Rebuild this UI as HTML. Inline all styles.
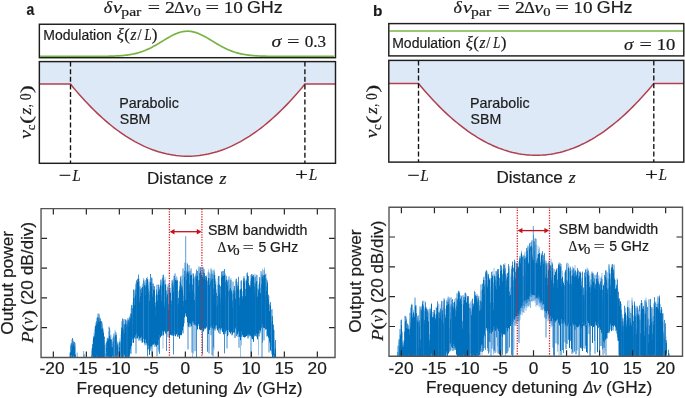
<!DOCTYPE html>
<html><head><meta charset="utf-8"><style>
html,body{margin:0;padding:0;background:#fff;overflow:hidden;}
svg{display:block;}
</style></head><body>
<svg width="685" height="398" viewBox="0 0 685 398">
<rect width="685" height="398" fill="#fff"/>
<rect x="39.35" y="24.25" width="296.15" height="33.45" fill="#fff"/>
<path d="M40.1 56.40 L41.1 56.40 L42.1 56.40 L43.1 56.40 L44.1 56.40 L45.1 56.40 L46.1 56.40 L47.1 56.40 L48.1 56.40 L49.1 56.40 L50.1 56.40 L51.1 56.40 L52.1 56.40 L53.1 56.40 L54.1 56.40 L55.1 56.40 L56.1 56.40 L57.1 56.40 L58.1 56.40 L59.1 56.40 L60.1 56.40 L61.1 56.40 L62.1 56.40 L63.1 56.40 L64.1 56.40 L65.1 56.40 L66.1 56.40 L67.1 56.40 L68.1 56.40 L69.1 56.40 L70.1 56.40 L71.1 56.40 L72.1 56.40 L73.1 56.40 L74.1 56.40 L75.1 56.40 L76.1 56.40 L77.1 56.40 L78.1 56.40 L79.1 56.40 L80.1 56.40 L81.1 56.40 L82.1 56.40 L83.1 56.40 L84.1 56.40 L85.1 56.39 L86.1 56.39 L87.1 56.39 L88.1 56.39 L89.1 56.39 L90.1 56.39 L91.1 56.39 L92.1 56.38 L93.1 56.38 L94.1 56.38 L95.1 56.37 L96.1 56.37 L97.1 56.36 L98.1 56.36 L99.1 56.35 L100.1 56.34 L101.1 56.34 L102.1 56.33 L103.1 56.32 L104.1 56.30 L105.1 56.29 L106.1 56.27 L107.1 56.26 L108.1 56.24 L109.1 56.22 L110.1 56.19 L111.1 56.16 L112.1 56.13 L113.1 56.10 L114.1 56.06 L115.1 56.02 L116.1 55.97 L117.1 55.92 L118.1 55.87 L119.1 55.80 L120.1 55.73 L121.1 55.66 L122.1 55.58 L123.1 55.49 L124.1 55.39 L125.1 55.28 L126.1 55.17 L127.1 55.04 L128.1 54.90 L129.1 54.75 L130.1 54.59 L131.1 54.42 L132.1 54.24 L133.1 54.04 L134.1 53.83 L135.1 53.60 L136.1 53.36 L137.1 53.10 L138.1 52.82 L139.1 52.53 L140.1 52.22 L141.1 51.90 L142.1 51.56 L143.1 51.19 L144.1 50.82 L145.1 50.42 L146.1 50.00 L147.1 49.57 L148.1 49.12 L149.1 48.65 L150.1 48.17 L151.1 47.67 L152.1 47.15 L153.1 46.62 L154.1 46.08 L155.1 45.52 L156.1 44.95 L157.1 44.37 L158.1 43.78 L159.1 43.18 L160.1 42.58 L161.1 41.97 L162.1 41.36 L163.1 40.75 L164.1 40.14 L165.1 39.53 L166.1 38.93 L167.1 38.34 L168.1 37.75 L169.1 37.18 L170.1 36.62 L171.1 36.08 L172.1 35.55 L173.1 35.05 L174.1 34.57 L175.1 34.12 L176.1 33.69 L177.1 33.29 L178.1 32.92 L179.1 32.58 L180.1 32.28 L181.1 32.01 L182.1 31.78 L183.1 31.59 L184.1 31.43 L185.1 31.32 L186.1 31.24 L187.1 31.20 L188.1 31.21 L189.1 31.25 L190.1 31.34 L191.1 31.46 L192.1 31.62 L193.1 31.82 L194.1 32.06 L195.1 32.34 L196.1 32.65 L197.1 32.99 L198.1 33.37 L199.1 33.77 L200.1 34.21 L201.1 34.67 L202.1 35.15 L203.1 35.66 L204.1 36.19 L205.1 36.73 L206.1 37.29 L207.1 37.87 L208.1 38.45 L209.1 39.05 L210.1 39.65 L211.1 40.26 L212.1 40.87 L213.1 41.48 L214.1 42.09 L215.1 42.70 L216.1 43.30 L217.1 43.90 L218.1 44.49 L219.1 45.06 L220.1 45.63 L221.1 46.19 L222.1 46.73 L223.1 47.26 L224.1 47.77 L225.1 48.27 L226.1 48.75 L227.1 49.21 L228.1 49.66 L229.1 50.09 L230.1 50.50 L231.1 50.89 L232.1 51.27 L233.1 51.63 L234.1 51.96 L235.1 52.29 L236.1 52.59 L237.1 52.88 L238.1 53.15 L239.1 53.41 L240.1 53.64 L241.1 53.87 L242.1 54.08 L243.1 54.28 L244.1 54.46 L245.1 54.63 L246.1 54.78 L247.1 54.93 L248.1 55.06 L249.1 55.19 L250.1 55.30 L251.1 55.41 L252.1 55.51 L253.1 55.59 L254.1 55.68 L255.1 55.75 L256.1 55.82 L257.1 55.88 L258.1 55.93 L259.1 55.98 L260.1 56.03 L261.1 56.07 L262.1 56.11 L263.1 56.14 L264.1 56.17 L265.1 56.20 L266.1 56.22 L267.1 56.24 L268.1 56.26 L269.1 56.28 L270.1 56.29 L271.1 56.31 L272.1 56.32 L273.1 56.33 L274.1 56.34 L275.1 56.35 L276.1 56.35 L277.1 56.36 L278.1 56.36 L279.1 56.37 L280.1 56.37 L281.1 56.38 L282.1 56.38 L283.1 56.38 L284.1 56.39 L285.1 56.39 L286.1 56.39 L287.1 56.39 L288.1 56.39 L289.1 56.39 L290.1 56.39 L291.1 56.40 L292.1 56.40 L293.1 56.40 L294.1 56.40 L295.1 56.40 L296.1 56.40 L297.1 56.40 L298.1 56.40 L299.1 56.40 L300.1 56.40 L301.1 56.40 L302.1 56.40 L303.1 56.40 L304.1 56.40 L305.1 56.40 L306.1 56.40 L307.1 56.40 L308.1 56.40 L309.1 56.40 L310.1 56.40 L311.1 56.40 L312.1 56.40 L313.1 56.40 L314.1 56.40 L315.1 56.40 L316.1 56.40 L317.1 56.40 L318.1 56.40 L319.1 56.40 L320.1 56.40 L321.1 56.40 L322.1 56.40 L323.1 56.40 L324.1 56.40 L325.1 56.40 L326.1 56.40 L327.1 56.40 L328.1 56.40 L329.1 56.40 L330.1 56.40 L331.1 56.40 L332.1 56.40 L333.1 56.40 L334.1 56.40" fill="none" stroke="#78b444" stroke-width="1.7"/>
<rect x="39.35" y="24.25" width="296.15" height="33.45" fill="none" stroke="#1e1e1e" stroke-width="1.45"/>
<path d="M39.35 61.60 L335.50 61.60 L335.50 84.10 L304.90 84.10 L301.97 87.66 L299.04 91.13 L296.11 94.51 L293.18 97.80 L290.25 101.00 L287.32 104.11 L284.39 107.13 L281.46 110.06 L278.53 112.89 L275.60 115.64 L272.67 118.30 L269.74 120.87 L266.81 123.35 L263.88 125.74 L260.95 128.04 L258.02 130.24 L255.09 132.36 L252.16 134.39 L249.23 136.33 L246.30 138.17 L243.37 139.93 L240.44 141.60 L237.51 143.18 L234.58 144.66 L231.65 146.06 L228.72 147.37 L225.79 148.58 L222.86 149.71 L219.93 150.75 L217.00 151.69 L214.07 152.55 L211.14 153.32 L208.21 153.99 L205.28 154.58 L202.35 155.07 L199.42 155.48 L196.49 155.79 L193.56 156.02 L190.63 156.15 L187.70 156.20 L184.77 156.15 L181.84 156.02 L178.91 155.79 L175.98 155.48 L173.05 155.07 L170.12 154.58 L167.19 153.99 L164.26 153.32 L161.33 152.55 L158.40 151.69 L155.47 150.75 L152.54 149.71 L149.61 148.58 L146.68 147.37 L143.75 146.06 L140.82 144.66 L137.89 143.18 L134.96 141.60 L132.03 139.93 L129.10 138.17 L126.17 136.33 L123.24 134.39 L120.31 132.36 L117.38 130.24 L114.45 128.04 L111.52 125.74 L108.59 123.35 L105.66 120.87 L102.73 118.30 L99.80 115.64 L96.87 112.89 L93.94 110.06 L91.01 107.13 L88.08 104.11 L85.15 101.00 L82.22 97.80 L79.29 94.51 L76.36 91.13 L73.43 87.66 L70.50 84.10 L39.35 84.10Z" fill="#dee9f7"/>
<path d="M39.35 84.10 L70.50 84.10 L73.43 87.66 L76.36 91.13 L79.29 94.51 L82.22 97.80 L85.15 101.00 L88.08 104.11 L91.01 107.13 L93.94 110.06 L96.87 112.89 L99.80 115.64 L102.73 118.30 L105.66 120.87 L108.59 123.35 L111.52 125.74 L114.45 128.04 L117.38 130.24 L120.31 132.36 L123.24 134.39 L126.17 136.33 L129.10 138.17 L132.03 139.93 L134.96 141.60 L137.89 143.18 L140.82 144.66 L143.75 146.06 L146.68 147.37 L149.61 148.58 L152.54 149.71 L155.47 150.75 L158.40 151.69 L161.33 152.55 L164.26 153.32 L167.19 153.99 L170.12 154.58 L173.05 155.07 L175.98 155.48 L178.91 155.79 L181.84 156.02 L184.77 156.15 L187.70 156.20 L190.63 156.15 L193.56 156.02 L196.49 155.79 L199.42 155.48 L202.35 155.07 L205.28 154.58 L208.21 153.99 L211.14 153.32 L214.07 152.55 L217.00 151.69 L219.93 150.75 L222.86 149.71 L225.79 148.58 L228.72 147.37 L231.65 146.06 L234.58 144.66 L237.51 143.18 L240.44 141.60 L243.37 139.93 L246.30 138.17 L249.23 136.33 L252.16 134.39 L255.09 132.36 L258.02 130.24 L260.95 128.04 L263.88 125.74 L266.81 123.35 L269.74 120.87 L272.67 118.30 L275.60 115.64 L278.53 112.89 L281.46 110.06 L284.39 107.13 L287.32 104.11 L290.25 101.00 L293.18 97.80 L296.11 94.51 L299.04 91.13 L301.97 87.66 L304.90 84.10 L335.50 84.10" fill="none" stroke="#b0404e" stroke-width="1.5" stroke-linejoin="round"/>
<line x1="70.5" y1="61.6" x2="70.5" y2="163.3" stroke="#111" stroke-width="1.35" stroke-dasharray="5 2.6"/>
<line x1="304.9" y1="61.6" x2="304.9" y2="163.3" stroke="#111" stroke-width="1.35" stroke-dasharray="5 2.6"/>
<rect x="39.35" y="61.6" width="296.15" height="101.70" fill="none" stroke="#1e1e1e" stroke-width="1.45"/>
<rect x="388.8" y="23.6" width="295.00" height="32.30" fill="#fff"/>
<line x1="389.5" y1="31" x2="683.2" y2="31" stroke="#78b444" stroke-width="1.5"/>
<rect x="388.8" y="23.6" width="295.00" height="32.30" fill="none" stroke="#1e1e1e" stroke-width="1.45"/>
<path d="M388.80 60.40 L683.80 60.40 L683.80 83.40 L653.80 83.40 L650.86 86.95 L647.92 90.41 L644.98 93.78 L642.03 97.06 L639.09 100.25 L636.15 103.35 L633.21 106.36 L630.27 109.28 L627.33 112.12 L624.39 114.86 L621.45 117.51 L618.50 120.07 L615.56 122.54 L612.62 124.92 L609.68 127.21 L606.74 129.42 L603.80 131.53 L600.86 133.55 L597.92 135.48 L594.97 137.33 L592.03 139.08 L589.09 140.74 L586.15 142.31 L583.21 143.80 L580.27 145.19 L577.33 146.49 L574.39 147.71 L571.44 148.83 L568.50 149.86 L565.56 150.81 L562.62 151.66 L559.68 152.42 L556.74 153.10 L553.80 153.68 L550.86 154.18 L547.91 154.58 L544.97 154.90 L542.03 155.12 L539.09 155.26 L536.15 155.30 L533.21 155.26 L530.27 155.12 L527.33 154.90 L524.38 154.58 L521.44 154.18 L518.50 153.68 L515.56 153.10 L512.62 152.42 L509.68 151.66 L506.74 150.81 L503.80 149.86 L500.86 148.83 L497.91 147.71 L494.97 146.49 L492.03 145.19 L489.09 143.80 L486.15 142.31 L483.21 140.74 L480.27 139.08 L477.32 137.33 L474.38 135.48 L471.44 133.55 L468.50 131.53 L465.56 129.42 L462.62 127.21 L459.68 124.92 L456.74 122.54 L453.80 120.07 L450.85 117.51 L447.91 114.86 L444.97 112.12 L442.03 109.28 L439.09 106.36 L436.15 103.35 L433.21 100.25 L430.26 97.06 L427.32 93.78 L424.38 90.41 L421.44 86.95 L418.50 83.40 L388.80 83.40Z" fill="#dee9f7"/>
<path d="M388.80 83.40 L418.50 83.40 L421.44 86.95 L424.38 90.41 L427.32 93.78 L430.26 97.06 L433.21 100.25 L436.15 103.35 L439.09 106.36 L442.03 109.28 L444.97 112.12 L447.91 114.86 L450.85 117.51 L453.80 120.07 L456.74 122.54 L459.68 124.92 L462.62 127.21 L465.56 129.42 L468.50 131.53 L471.44 133.55 L474.38 135.48 L477.32 137.33 L480.27 139.08 L483.21 140.74 L486.15 142.31 L489.09 143.80 L492.03 145.19 L494.97 146.49 L497.91 147.71 L500.86 148.83 L503.80 149.86 L506.74 150.81 L509.68 151.66 L512.62 152.42 L515.56 153.10 L518.50 153.68 L521.44 154.18 L524.38 154.58 L527.33 154.90 L530.27 155.12 L533.21 155.26 L536.15 155.30 L539.09 155.26 L542.03 155.12 L544.97 154.90 L547.91 154.58 L550.86 154.18 L553.80 153.68 L556.74 153.10 L559.68 152.42 L562.62 151.66 L565.56 150.81 L568.50 149.86 L571.44 148.83 L574.39 147.71 L577.33 146.49 L580.27 145.19 L583.21 143.80 L586.15 142.31 L589.09 140.74 L592.03 139.08 L594.97 137.33 L597.92 135.48 L600.86 133.55 L603.80 131.53 L606.74 129.42 L609.68 127.21 L612.62 124.92 L615.56 122.54 L618.50 120.07 L621.45 117.51 L624.39 114.86 L627.33 112.12 L630.27 109.28 L633.21 106.36 L636.15 103.35 L639.09 100.25 L642.03 97.06 L644.98 93.78 L647.92 90.41 L650.86 86.95 L653.80 83.40 L683.80 83.40" fill="none" stroke="#b0404e" stroke-width="1.5" stroke-linejoin="round"/>
<line x1="418.5" y1="60.4" x2="418.5" y2="162.1" stroke="#111" stroke-width="1.35" stroke-dasharray="5 2.6"/>
<line x1="653.8" y1="60.4" x2="653.8" y2="162.1" stroke="#111" stroke-width="1.35" stroke-dasharray="5 2.6"/>
<rect x="388.8" y="60.4" width="295.00" height="101.70" fill="none" stroke="#1e1e1e" stroke-width="1.45"/>
<path d="M69.00 357.0V357.5M70.50 346.0V352.2M71.00 343.3V344.6M73.00 339.2V344.5M75.50 353.9V355.0M76.50 357.0V357.5M77.50 357.0V357.5M78.50 357.0V357.5M79.50 357.0V357.5M82.00 357.0V357.5M83.00 357.0V357.5M84.50 357.0V357.5M86.00 357.0V357.5M87.50 357.0V357.5M89.50 357.0V357.5M90.00 357.0V357.5M91.50 354.8V356.3M93.00 339.9V345.9M94.00 332.5V338.2M94.50 329.1V336.5M95.00 326.0V333.7M99.50 315.9V321.7M100.50 318.4V320.7M101.00 326.9V356.9M102.50 324.7V328.3M103.00 327.6V331.0M103.50 329.3V332.8M104.00 336.5V345.1M105.00 342.8V344.1M106.00 345.4V353.3M107.00 338.2V340.9M108.50 330.9V338.8M109.00 329.3V357.5M110.00 329.9V336.3M110.50 335.1V338.8M111.00 334.8V339.6M112.50 341.4V347.2M113.50 335.4V341.2M115.00 329.9V337.8M115.50 331.5V335.3M117.00 341.1V346.6M117.50 341.7V344.9M118.00 342.3V343.4M118.50 357.0V357.5M119.00 349.0V356.0M120.00 337.8V340.8M121.00 334.3V343.1M123.50 320.4V328.7M126.00 321.3V324.5M126.50 320.9V327.1M127.50 320.8V324.3M130.50 313.3V318.3M131.00 308.3V313.3M132.00 315.7V324.6M133.00 301.9V305.3M134.00 289.8V298.0M134.50 296.9V304.7M135.50 288.7V295.4M136.00 282.6V284.1M139.00 278.1V281.2M139.50 298.0V302.2M142.00 285.4V290.9M142.50 283.6V286.8M143.50 278.0V280.3M144.00 279.2V282.7M144.50 281.1V285.1M145.00 280.7V286.4M147.50 276.8V279.1M148.00 283.6V292.5M148.50 285.4V288.6M149.00 279.2V281.3M149.50 294.7V301.0M150.00 282.7V291.1M152.50 293.5V296.5M153.50 283.5V289.5M155.00 296.1V302.5M156.00 294.5V302.4M157.50 295.1V300.5M160.00 284.6V288.8M160.50 279.9V284.9M161.50 295.2V301.0M162.00 281.0V286.1M164.50 302.9V307.1M165.00 277.2V284.1M165.50 279.7V284.7M166.00 284.4V290.6M166.50 290.5V296.6M167.00 293.3V300.6M167.50 286.6V294.2M168.00 284.2V287.3M169.50 284.9V290.0M170.00 288.5V292.3M170.50 287.7V292.8M171.00 299.7V304.0M173.50 284.9V291.7M174.50 273.6V275.9M175.50 273.3V279.9M176.00 279.6V287.8M176.50 276.2V280.7M177.00 277.2V279.7M178.00 297.5V304.4M179.50 286.8V289.7M182.00 279.6V287.1M182.50 286.3V290.0M184.00 293.1V295.9M186.50 274.0V279.7M187.00 262.8V270.8M190.50 269.5V275.6M191.00 267.9V275.7M191.50 268.8V274.8M194.50 293.3V300.1M195.00 285.4V322.9M195.50 273.3V275.5M198.00 284.8V291.5M200.00 278.2V285.6M201.50 267.1V274.4M202.00 282.6V284.4M202.50 267.8V276.7M205.00 281.8V289.4M206.50 275.1V277.3M207.00 285.4V328.4M207.50 280.2V285.0M208.00 272.1V280.9M208.50 269.4V277.8M209.00 277.6V328.5M209.50 277.5V284.8M210.00 274.3V278.2M210.50 286.0V326.0M214.00 268.9V270.5M214.50 272.8V275.2M215.00 274.8V278.7M215.50 280.9V284.2M216.00 281.5V289.4M217.00 299.8V307.2M218.00 277.7V284.7M220.00 295.0V298.4M221.00 296.2V303.2M222.00 274.3V279.7M222.50 271.1V275.4M223.50 270.6V276.0M224.00 271.2V277.3M225.00 287.2V295.7M225.50 273.6V281.8M226.50 275.8V279.8M228.50 297.1V335.0M230.00 284.2V289.0M230.50 279.1V287.9M231.00 278.0V280.1M233.50 290.5V294.2M235.50 290.8V298.6M237.00 284.1V286.0M237.50 284.5V288.6M240.00 289.2V290.2M240.50 280.8V289.2M246.00 299.8V303.4M246.50 273.1V280.5M248.00 284.5V289.9M249.00 284.7V290.3M250.50 280.7V287.1M252.00 274.2V281.3M252.50 274.2V275.8M254.00 274.3V282.7M255.00 273.7V277.2M255.50 276.0V283.4M256.00 282.7V288.6M256.50 274.7V281.2M257.50 288.4V296.5M260.00 290.7V294.7M260.50 287.8V293.2M262.00 272.3V274.4M262.50 268.7V276.5M264.50 267.6V275.0M265.00 287.7V296.3M266.00 273.3V278.0M266.50 286.6V291.0M267.50 281.4V282.7M269.00 295.8V304.6M269.50 303.7V311.1M271.50 309.9V313.6M271.50 313.6V351.5M273.00 324.3V328.8M275.00 342.5V349.2M276.00 357.0V357.5M277.00 357.0V357.5M71.50 355.1V356.3M72.00 357.4V357.5M77.00 357.3V357.5M83.50 356.6V357.3M97.50 357.0V357.5M99.00 354.7V357.5M101.00 356.9V357.3M103.00 354.7V355.6M104.50 357.3V357.5M107.50 356.2V357.4M108.00 356.8V357.2M111.50 357.3V357.5M112.00 355.8V356.8M112.50 355.8V356.8M116.00 355.5V356.9M117.50 354.9V356.0M119.00 356.0V356.8M123.00 356.6V357.2M123.50 353.5V356.5M124.00 357.4V357.5M124.50 354.8V356.0M128.50 357.2V357.4M158.50 339.9V350.0M163.00 333.2V348.6M192.50 321.4V357.1M193.50 321.0V353.5M214.00 329.0V350.2M240.50 340.3V357.5M241.50 331.4V345.6M258.50 333.8V355.5" stroke="#80b6e3" stroke-width="0.8" fill="none"/><path d="M69.50 357.0V357.5M70.00 352.6V357.5M71.50 343.1V350.2M72.00 339.5V346.3M72.00 346.3V357.4M72.50 338.0V346.2M73.50 341.4V344.2M74.00 357.0V357.5M74.50 341.9V346.8M75.00 343.1V345.8M76.00 357.0V357.5M77.00 356.8V357.3M78.00 357.0V357.5M79.00 357.0V357.5M80.00 357.0V357.5M80.50 357.0V357.5M81.00 357.0V357.5M81.50 357.0V357.5M82.50 357.0V357.5M83.50 355.5V356.6M84.00 357.0V357.5M85.00 357.0V357.5M85.50 357.0V357.5M86.50 357.0V357.5M87.00 357.0V357.5M88.00 357.0V357.5M88.50 357.0V357.5M89.00 357.0V357.5M90.50 357.0V357.5M91.00 357.0V357.5M92.00 348.4V351.0M92.50 344.1V347.9M93.50 336.4V337.7M95.50 325.6V326.7M96.00 322.5V325.5M96.50 321.1V324.8M97.00 317.8V323.0M97.50 317.1V323.8M98.00 313.6V318.3M98.50 317.6V322.0M99.00 313.7V321.9M100.00 317.9V319.0M101.00 321.5V326.9M101.50 321.2V328.5M102.00 322.3V328.5M103.00 331.0V354.7M104.50 336.6V339.6M104.50 339.6V357.3M105.00 344.1V353.7M105.50 357.0V357.5M106.50 342.5V347.6M107.50 338.5V341.1M108.00 337.5V340.9M109.00 326.7V329.3M109.50 328.1V335.4M110.00 336.3V357.5M111.50 339.6V346.4M112.00 343.9V352.1M113.00 337.7V341.4M113.00 341.4V357.5M113.50 341.2V357.5M114.00 333.5V335.6M114.50 357.0V357.5M116.00 332.4V336.4M116.50 334.7V336.3M116.50 336.3V357.5M119.00 347.7V349.0M119.50 342.3V346.6M120.50 357.0V357.5M121.50 327.5V330.5M122.00 321.1V327.3M122.50 318.6V327.4M123.00 318.9V323.5M123.50 328.7V353.5M124.00 331.7V333.6M124.50 324.3V333.1M125.00 319.0V325.3M125.50 319.8V323.2M126.50 327.1V357.2M127.00 319.8V323.9M127.50 324.3V357.5M128.00 317.9V321.3M128.50 319.9V325.5M129.00 319.6V320.8M129.50 317.6V323.0M130.00 315.8V321.9M131.50 304.9V313.5M132.50 308.4V310.3M132.50 310.3V338.5M133.50 289.4V297.7M134.00 298.0V337.6M135.00 290.1V292.6M136.50 280.3V285.7M136.50 285.7V333.5M137.00 296.4V301.0M137.50 278.8V281.9M138.00 285.1V289.5M138.50 274.6V278.4M140.00 286.1V287.1M140.50 289.4V295.6M141.00 311.1V317.9M141.50 288.1V292.9M142.00 290.9V342.7M143.00 290.0V291.5M143.00 291.5V338.2M143.50 280.3V338.9M144.00 282.7V342.0M145.00 286.4V345.4M145.50 286.5V295.1M146.00 280.0V283.0M146.50 277.9V284.9M147.00 283.8V290.6M148.50 288.6V345.6M149.00 281.3V348.6M150.50 274.0V281.4M151.00 285.7V289.3M151.00 289.3V348.7M151.50 277.6V286.3M152.00 278.1V282.3M153.00 283.7V286.2M154.00 294.5V297.1M154.50 286.1V289.3M155.50 306.6V315.4M156.50 289.3V293.4M157.00 284.5V292.0M158.00 294.6V303.4M158.50 284.7V290.3M159.00 287.1V291.0M159.50 289.6V294.1M161.00 279.5V282.2M162.50 277.8V285.4M163.00 275.2V284.1M163.50 274.7V280.6M164.00 279.8V280.8M166.50 296.6V334.2M168.00 287.3V337.0M168.50 304.1V309.4M169.00 284.0V288.9M171.50 300.9V303.5M171.50 303.5V335.3M172.00 280.3V283.5M172.50 282.1V287.3M173.00 279.6V286.5M174.00 275.8V281.7M174.50 275.9V334.5M175.00 278.1V281.7M175.00 281.7V336.0M177.50 280.4V289.1M177.50 289.1V336.0M178.50 298.0V303.2M179.00 291.2V297.9M180.00 281.2V284.7M180.50 277.3V282.2M181.00 275.8V277.2M181.00 277.2V334.5M181.50 285.0V287.8M183.00 268.4V275.0M183.50 301.1V306.0M184.50 270.8V276.4M185.00 262.5V266.2M185.00 266.2V307.6M185.50 266.1V275.1M186.00 272.7V280.6M187.50 263.7V272.0M188.00 282.8V289.2M188.50 271.5V273.5M189.00 265.1V273.3M189.50 283.9V291.6M190.00 270.9V272.8M192.00 288.5V291.5M192.00 291.5V324.0M192.50 284.6V290.3M193.00 273.3V278.7M193.50 273.8V277.7M194.00 276.3V284.3M195.00 278.4V285.4M195.50 275.5V325.5M196.00 289.0V296.8M196.50 269.6V277.1M197.00 274.7V283.6M197.50 271.0V275.5M198.50 280.2V285.4M199.00 266.5V268.2M199.50 273.0V279.9M200.00 285.6V325.7M200.50 267.2V270.7M201.00 278.0V283.5M203.00 267.0V273.6M203.00 273.6V327.4M203.50 271.3V279.0M204.00 268.9V272.9M204.50 273.2V277.0M205.50 275.9V279.3M206.00 276.0V282.9M207.00 281.7V285.4M207.50 285.0V328.4M208.00 280.9V330.1M209.00 272.4V277.6M210.50 281.7V286.0M211.00 268.5V273.7M211.50 279.6V286.1M211.50 286.1V326.9M212.00 270.4V272.9M212.50 279.0V280.4M213.00 274.4V277.5M213.50 288.6V294.7M216.50 292.9V299.3M216.50 299.3V325.1M217.50 296.0V305.0M218.50 276.0V280.9M218.50 280.9V332.6M219.00 276.0V283.4M219.50 284.8V292.6M220.50 286.1V288.0M220.50 288.0V329.0M221.50 271.5V277.1M222.00 279.7V328.5M223.00 271.1V274.5M224.50 269.0V274.5M225.50 281.8V332.1M226.00 275.9V280.0M227.00 280.8V284.5M227.50 281.6V285.5M228.00 279.6V282.0M228.00 282.0V330.3M228.50 291.3V297.1M229.00 276.4V279.5M229.50 290.4V296.9M231.50 290.2V291.4M232.00 293.6V302.3M232.50 300.2V307.9M233.00 281.5V290.5M233.50 294.2V332.7M234.00 288.7V290.5M234.50 285.9V292.3M235.00 300.4V303.6M236.00 279.3V281.0M236.50 278.6V281.9M236.50 281.9V336.2M238.00 281.8V286.9M238.00 286.9V336.9M238.50 276.8V285.7M239.00 300.4V308.5M239.50 297.5V304.6M241.00 291.0V296.3M241.50 280.3V288.1M242.00 291.0V297.7M242.50 296.0V298.6M243.00 298.2V306.8M243.50 278.4V280.6M244.00 276.1V282.6M244.50 278.5V282.4M245.00 280.5V286.4M245.00 286.4V334.1M245.50 288.9V295.5M247.00 278.8V283.8M247.50 272.5V274.6M248.50 276.1V282.6M249.50 285.3V286.3M250.00 284.8V290.8M251.00 275.1V280.9M251.50 274.2V277.8M253.00 291.6V295.1M253.50 275.0V276.3M254.50 286.2V292.6M255.50 283.4V335.3M257.00 275.1V280.6M258.00 298.9V300.3M258.50 289.4V292.1M259.00 284.4V287.4M259.50 277.1V281.9M261.00 271.1V277.5M261.50 284.3V290.8M261.50 290.8V328.4M263.00 285.1V293.2M263.00 293.2V324.1M263.50 275.1V279.1M264.00 270.2V276.0M265.50 274.3V278.3M265.50 278.3V329.8M267.00 279.7V285.5M268.00 296.4V297.7M268.50 294.7V299.8M270.00 318.2V325.7M270.50 302.1V306.0M271.00 322.6V330.9M271.00 330.9V346.2M272.00 309.1V316.3M272.50 316.2V320.2M273.50 324.7V329.9M274.00 329.9V338.1M274.50 353.5V357.5M275.50 340.0V348.2M276.50 357.0V357.5M277.50 357.0V357.5M278.00 357.0V357.5M73.50 355.8V356.7M74.50 356.9V357.4M75.00 356.8V357.0M75.50 356.3V357.4M92.00 356.1V357.3M92.50 355.7V356.4M94.00 357.1V357.3M94.50 357.0V357.3M96.00 355.7V357.2M96.50 355.4V357.2M98.00 357.3V357.4M99.50 357.1V357.3M100.00 356.0V356.3M105.00 353.7V356.2M106.50 352.3V355.8M107.00 357.3V357.5M108.50 356.3V356.9M110.50 357.3V357.5M111.00 351.8V353.9M114.00 357.3V357.4M115.00 356.3V357.5M115.50 355.6V357.2M119.50 357.2V357.4M121.00 355.9V356.6M121.50 354.8V357.2M122.50 357.2V357.4M125.00 351.9V355.3M125.50 357.3V357.4M126.50 357.2V357.4M128.00 354.1V357.0M129.50 355.3V356.4M131.00 344.5V354.1M136.00 338.0V353.6M147.50 344.6V356.3M152.00 347.0V355.6M157.00 344.5V356.3M159.00 338.3V352.3M159.50 335.7V353.9M166.50 334.2V351.0M173.50 336.4V354.5M188.00 326.0V349.4M192.00 324.0V352.5M195.00 322.9V351.2M196.50 326.0V357.4M202.50 328.0V354.3M207.50 328.4V351.8M209.00 328.5V353.5M211.00 328.7V335.2M212.00 325.2V355.0M213.00 329.6V356.3M213.50 325.3V347.4M224.50 329.4V353.4M227.00 328.7V348.5M239.00 333.6V347.8M251.00 335.8V356.9M262.00 326.2V357.0M262.50 324.2V342.8M264.00 324.9V340.4M269.00 338.2V352.5" stroke="#2a82c9" stroke-width="0.9" fill="none"/><path d="M70.50 352.2V357.5M71.00 344.6V357.5M71.50 350.2V355.1M72.50 346.2V357.5M73.00 344.5V357.5M73.50 344.2V355.8M74.50 346.8V356.9M75.00 345.8V356.8M75.50 355.0V356.3M91.50 356.3V357.5M92.00 351.0V356.1M92.50 347.9V355.7M93.00 345.9V357.5M93.50 337.7V357.5M94.00 338.2V357.1M94.50 336.5V357.0M95.00 333.7V357.5M95.50 326.7V357.5M96.00 325.5V355.7M96.50 324.8V355.4M97.00 323.0V357.5M97.50 323.8V357.0M98.00 318.3V357.3M98.50 322.0V357.5M99.00 321.9V354.7M99.50 321.7V357.1M100.00 319.0V356.0M100.50 320.7V357.5M101.50 328.5V357.5M102.00 328.5V357.5M102.50 328.3V357.5M103.50 332.8V357.5M104.00 345.1V357.5M106.00 353.3V357.5M106.50 347.6V352.3M107.00 340.9V357.3M107.50 341.1V356.2M108.00 340.9V356.8M108.50 338.8V356.3M109.50 335.4V357.5M110.50 338.8V357.3M111.00 339.6V351.8M111.50 346.4V357.3M112.00 352.1V355.8M112.50 347.2V355.8M114.00 335.6V357.3M115.00 337.8V356.3M115.50 335.3V355.6M116.00 336.4V355.5M117.00 346.6V357.5M117.50 344.9V354.9M118.00 343.4V357.5M119.50 346.6V357.2M120.00 340.8V357.5M121.00 343.1V355.9M121.50 330.5V354.8M122.00 327.3V357.5M122.50 327.4V357.2M123.00 323.5V356.6M124.00 333.6V357.4M124.50 333.1V354.8M125.00 325.3V351.9M125.50 323.2V357.3M126.00 324.5V357.5M127.00 323.9V357.5M128.00 321.3V354.1M128.50 325.5V357.2M129.00 320.8V357.5M129.50 323.0V355.3M130.00 321.9V353.0M130.50 318.3V349.2M131.00 313.3V344.5M131.50 313.5V345.9M132.00 324.6V342.8M133.00 305.3V339.7M133.50 297.7V342.9M134.50 304.7V337.3M135.00 292.6V338.8M135.50 295.4V335.2M136.00 284.1V338.0M137.00 301.0V338.3M137.50 281.9V338.4M138.00 289.5V331.7M138.50 278.4V336.4M139.00 281.2V340.7M139.50 302.2V338.7M140.00 287.1V336.4M140.50 295.6V337.8M141.00 317.9V340.6M141.50 292.9V336.8M142.50 286.8V342.5M144.50 285.1V343.3M145.50 295.1V339.4M146.00 283.0V343.5M146.50 284.9V342.8M147.00 290.6V345.4M147.50 279.1V344.6M148.00 292.5V349.7M149.50 301.0V354.8M150.00 291.1V351.0M150.50 281.4V346.4M151.50 286.3V346.2M152.00 282.3V347.0M152.50 296.5V344.8M153.00 286.2V341.3M153.50 289.5V344.7M154.00 297.1V342.4M154.50 289.3V343.6M155.00 302.5V346.7M155.50 315.4V344.9M156.00 302.4V344.0M156.50 293.4V346.6M157.00 292.0V344.5M157.50 300.5V344.9M158.00 303.4V344.6M158.50 290.3V339.9M159.00 291.0V338.3M159.50 294.1V335.7M160.00 288.8V332.5M160.50 284.9V337.5M161.00 282.2V334.4M161.50 301.0V335.8M162.00 286.1V335.4M162.50 285.4V331.0M163.00 284.1V333.2M163.50 280.6V335.4M164.00 280.8V332.1M164.50 307.1V330.8M165.00 284.1V329.6M165.50 284.7V332.8M166.00 290.6V334.3M167.00 300.6V329.8M167.50 294.2V331.6M168.50 309.4V330.9M169.00 288.9V330.6M169.50 290.0V338.4M170.00 292.3V334.9M170.50 292.8V334.3M171.00 304.0V335.2M172.00 283.5V335.2M172.50 287.3V334.3M173.00 286.5V335.9M173.50 291.7V336.4M174.00 281.7V331.1M175.50 279.9V336.3M176.00 287.8V334.8M176.50 280.7V334.0M177.00 279.7V331.8M178.00 304.4V337.0M178.50 303.2V335.1M179.00 297.9V331.6M179.50 289.7V338.7M180.00 284.7V334.3M180.50 282.2V335.2M181.50 287.8V335.2M182.00 287.1V331.2M182.50 290.0V330.0M183.00 275.0V333.4M183.50 306.0V326.5M184.00 295.9V323.4M184.50 276.4V317.5M185.50 275.1V313.4M186.00 280.6V315.9M186.50 279.7V316.7M187.00 270.8V316.7M187.50 272.0V322.4M188.00 289.2V326.0M188.50 273.5V326.8M189.00 273.3V324.8M189.50 291.6V323.2M190.00 272.8V327.3M190.50 275.6V323.1M191.00 275.7V324.3M191.50 274.8V326.1M192.50 290.3V321.4M193.00 278.7V322.8M193.50 277.7V321.0M194.00 284.3V324.9M194.50 300.1V324.4M196.00 296.8V324.2M196.50 277.1V326.0M197.00 283.6V325.9M197.50 275.5V329.5M198.00 291.5V324.0M198.50 285.4V324.1M199.00 268.2V326.0M199.50 279.9V329.3M200.50 270.7V329.9M201.00 283.5V330.4M201.50 274.4V329.1M202.00 284.4V328.7M202.50 276.7V328.0M203.50 279.0V331.4M204.00 272.9V329.7M204.50 277.0V328.0M205.00 289.4V328.7M205.50 279.3V328.6M206.00 282.9V327.7M206.50 277.3V326.7M208.50 277.8V334.0M209.50 284.8V329.9M210.00 278.2V327.9M211.00 273.7V328.7M212.00 272.9V325.2M212.50 280.4V328.2M213.00 277.5V329.6M213.50 294.7V325.3M214.00 270.5V329.0M214.50 275.2V328.4M215.00 278.7V330.5M215.50 284.2V325.9M216.00 289.4V328.6M217.00 307.2V325.8M217.50 305.0V330.4M218.00 284.7V329.0M219.00 283.4V327.8M219.50 292.6V328.4M220.00 298.4V333.9M221.00 303.2V330.4M221.50 277.1V327.9M222.50 275.4V331.9M223.00 274.5V331.6M223.50 276.0V334.3M224.00 277.3V331.5M224.50 274.5V329.4M225.00 295.7V333.9M226.00 280.0V330.8M226.50 279.8V330.2M227.00 284.5V328.7M227.50 285.5V336.2M229.00 279.5V330.1M229.50 296.9V332.2M230.00 289.0V330.4M230.50 287.9V333.7M231.00 280.1V331.3M231.50 291.4V331.8M232.00 302.3V335.4M232.50 307.9V334.3M233.00 290.5V328.6M234.00 290.5V332.3M234.50 292.3V332.4M235.00 303.6V337.9M235.50 298.6V327.5M236.00 281.0V329.1M237.00 286.0V333.5M237.50 288.6V334.3M238.50 285.7V331.7M239.00 308.5V333.6M239.50 304.6V336.8M240.00 290.2V336.5M240.50 289.2V340.3M241.00 296.3V336.5M241.50 288.1V331.4M242.00 297.7V336.7M242.50 298.6V335.0M243.00 306.8V332.9M243.50 280.6V337.1M244.00 282.6V335.3M244.50 282.4V337.5M245.50 295.5V336.9M246.00 303.4V335.9M246.50 280.5V336.2M247.00 283.8V335.9M247.50 274.6V334.7M248.00 289.9V338.5M248.50 282.6V334.2M249.00 290.3V336.5M249.50 286.3V334.7M250.00 290.8V335.8M250.50 287.1V335.4M251.00 280.9V335.8M251.50 277.8V336.7M252.00 281.3V338.6M252.50 275.8V339.2M253.00 295.1V336.4M253.50 276.3V341.8M254.00 282.7V336.7M254.50 292.6V334.6M255.00 277.2V336.0M256.00 288.6V336.0M256.50 281.2V333.5M257.00 280.6V337.2M257.50 296.5V339.3M258.00 300.3V330.4M258.50 292.1V333.8M259.00 287.4V336.4M259.50 281.9V329.9M260.00 294.7V333.2M260.50 293.2V330.9M261.00 277.5V327.1M262.00 274.4V326.2M262.50 276.5V324.2M263.50 279.1V327.8M264.00 276.0V324.9M264.50 275.0V328.1M265.00 296.3V327.0M266.00 278.0V329.2M266.50 291.0V329.0M267.00 285.5V336.5M267.50 282.7V335.3M268.00 297.7V336.1M268.50 299.8V337.8M269.00 304.6V338.2M269.50 311.1V341.4M270.00 325.7V343.1M270.50 306.0V350.6M272.00 316.3V354.2M272.50 320.2V357.2M273.00 328.8V357.5M273.50 329.9V355.0M274.00 338.1V357.5M275.00 349.2V357.1M275.50 348.2V357.5" stroke="#0070bd" stroke-width="1.0" fill="none"/><path d="M185.7 236.2V300" stroke="#4a94d2" stroke-width="0.9"/><path d="M77.2 352.5V357.5M83.6 351V357.5M84.4 354V357.5" stroke="#5a9fd6" stroke-width="0.8"/>
<line x1="169.4" y1="208.6" x2="169.4" y2="357.5" stroke="#d81e24" stroke-width="1.25" stroke-dasharray="1.3 1.26"/>
<line x1="201.9" y1="208.6" x2="201.9" y2="357.5" stroke="#d81e24" stroke-width="1.25" stroke-dasharray="1.3 1.26"/>
<line x1="172.4" y1="231.7" x2="198.9" y2="231.7" stroke="#c4121a" stroke-width="1.3"/>
<path d="M169.70000000000002 231.7 l4.8 -2.7 v5.4z M201.6 231.7 l-4.8 -2.7 v5.4z" fill="#c4121a"/>
<path d="M53.35 357.5v-6 M53.35 208.6v6 M86.35 357.5v-6 M86.35 208.6v6 M119.35 357.5v-6 M119.35 208.6v6 M152.35 357.5v-6 M152.35 208.6v6 M185.35 357.5v-6 M185.35 208.6v6 M218.35 357.5v-6 M218.35 208.6v6 M251.35 357.5v-6 M251.35 208.6v6 M284.35 357.5v-6 M284.35 208.6v6 M317.35 357.5v-6 M317.35 208.6v6 M41.05 238.38h6 M335.05 238.38h-6 M41.05 268.16h6 M335.05 268.16h-6 M41.05 297.94h6 M335.05 297.94h-6 M41.05 327.72h6 M335.05 327.72h-6" stroke="#262626" stroke-width="1.2" fill="none"/>
<path d="M41.05 208.6H335.05V357.5H41.05Z" fill="none" stroke="#555" stroke-width="1.4"/>
<path d="M512.50 318.2V324.7M513.00 321.9V328.3M513.50 323.3V331.7M514.00 319.4V323.8M514.50 319.5V325.6M515.00 319.8V325.8M515.50 316.4V323.5M516.00 317.6V325.8M516.50 316.0V323.8M517.00 314.9V321.7M517.50 312.2V320.4M518.00 316.0V322.1M518.50 314.1V320.9M519.00 314.9V321.3M519.50 310.6V316.2M520.00 313.6V319.7M520.50 308.0V314.9M521.00 304.8V309.1M521.50 306.3V311.4M522.00 308.1V315.1M522.50 305.5V312.2M523.00 302.2V309.2M523.50 306.7V312.2M524.00 306.4V313.0M524.50 301.0V308.9M525.00 299.7V307.5M525.50 300.3V306.0M526.00 303.6V310.9M526.50 300.5V306.3M527.00 302.7V307.9M527.50 299.2V305.9M528.00 298.8V305.1M528.50 298.9V306.5M529.00 301.3V306.5M529.50 296.3V304.7M530.00 293.8V301.3M530.50 299.9V307.9M531.00 297.1V301.9M531.50 293.5V301.3M532.00 295.2V301.2M532.50 295.2V301.4M533.00 293.2V297.7M533.50 295.1V301.0M534.00 295.1V300.4M534.50 295.3V299.8M535.00 295.5V302.5M535.50 292.2V300.4M536.00 298.5V306.6M536.50 297.9V305.0M537.00 295.1V302.5M537.50 297.5V305.3M538.00 298.5V304.3M538.50 295.3V301.5M539.00 299.1V306.5M539.50 297.2V303.4M540.00 302.4V307.3M540.50 300.4V305.3M541.00 303.4V310.0M541.50 301.5V309.5M542.00 300.5V306.9M542.50 305.0V310.5M543.00 301.1V309.0M543.50 304.2V308.5M544.00 304.0V310.4M544.50 310.0V317.7M545.00 311.4V316.9M545.50 311.0V319.2M546.00 309.7V316.5M546.50 313.1V318.8M547.00 310.5V317.5M547.50 311.1V315.7M548.00 314.1V321.4M548.50 314.4V319.7M549.00 310.9V317.5M549.50 318.3V323.4M550.00 314.5V320.2M550.50 315.9V323.0M551.00 321.3V327.4M551.50 321.0V325.5M552.00 316.3V322.6M552.50 318.4V325.9M553.00 318.4V323.3M553.50 321.0V329.1M554.00 321.7V326.7M554.50 320.2V327.3" stroke="#6aa9de" stroke-width="0.8" fill="none"/><path d="M396.50 355.8V356.3M397.50 352.1V356.3M399.50 339.5V346.3M402.50 341.4V346.5M403.00 342.2V344.7M403.50 340.0V346.9M404.00 350.1V356.2M405.50 316.0V321.0M407.00 348.5V356.3M408.50 325.5V328.6M409.00 352.6V356.3M410.50 322.1V327.2M411.00 306.3V307.9M412.00 303.6V305.1M412.50 314.7V317.5M413.00 314.8V320.0M413.50 309.7V312.3M414.50 314.3V316.7M416.50 317.2V356.3M417.50 315.6V321.6M418.50 314.9V322.0M419.00 340.7V347.8M423.50 300.6V305.7M425.00 300.9V308.3M428.50 312.6V321.3M430.00 307.3V309.1M430.50 309.2V314.4M431.00 308.0V311.3M431.50 303.0V304.1M432.00 325.4V328.9M435.00 314.3V319.0M436.00 307.2V315.0M437.00 312.7V320.0M438.50 303.5V312.1M440.00 304.4V310.8M442.00 310.4V319.4M445.00 310.3V314.9M445.50 308.6V317.6M446.50 299.7V305.5M447.50 298.2V304.8M448.00 296.6V301.4M448.50 296.8V303.8M449.50 328.4V332.6M449.50 332.6V344.2M450.50 312.4V319.1M451.50 297.3V304.2M453.50 307.0V309.1M454.50 299.2V301.8M455.50 310.2V316.4M458.00 291.9V299.2M460.50 295.2V298.6M461.00 295.3V300.6M462.00 320.2V327.6M463.50 297.0V304.3M464.50 296.6V299.9M466.50 294.2V302.4M467.00 305.6V311.7M469.50 303.7V307.5M470.00 303.1V308.1M470.50 301.7V308.6M471.00 310.6V319.1M471.00 319.1V355.4M471.50 311.8V315.1M474.00 303.2V307.1M475.00 292.6V295.5M475.50 292.1V295.3M476.00 299.0V302.5M479.00 295.8V300.3M479.50 305.5V310.7M480.00 308.3V315.5M482.00 290.4V299.3M483.00 298.1V341.8M483.50 278.0V280.0M485.50 278.6V333.7M487.50 284.6V287.2M488.00 274.9V280.1M490.00 286.7V292.6M492.50 271.3V275.5M493.50 302.4V309.5M494.00 267.9V274.5M495.50 279.7V285.7M496.50 281.5V289.1M498.00 300.6V309.2M499.00 284.9V292.5M500.00 280.9V285.3M501.00 280.4V283.6M502.00 268.2V273.4M502.50 274.2V281.4M505.00 263.0V268.8M505.50 267.4V273.4M510.00 296.5V304.8M510.50 287.3V294.7M511.00 273.3V276.7M511.50 265.9V268.6M512.00 270.4V276.1M513.50 271.8V323.3M517.00 272.9V278.6M518.50 261.8V267.1M519.50 257.9V259.6M520.50 258.5V263.3M521.00 254.1V257.8M521.50 250.7V252.6M522.00 267.7V276.3M523.50 255.7V256.7M523.50 256.7V306.7M524.00 269.7V276.4M524.50 253.6V259.0M525.00 251.7V256.1M526.00 265.0V272.6M527.00 247.7V255.0M529.00 264.1V267.3M530.50 250.8V299.9M531.50 241.8V246.3M533.00 247.8V254.5M534.50 238.4V241.2M535.00 255.6V263.1M535.50 237.9V241.4M535.50 241.4V292.2M536.50 259.7V262.6M538.00 245.6V254.2M538.50 249.2V254.2M539.00 250.3V256.5M539.50 247.3V253.0M540.00 253.3V262.0M540.50 259.4V265.3M541.00 263.4V267.3M541.50 253.0V255.2M542.00 259.0V300.5M543.50 256.6V263.9M545.00 259.7V263.6M545.50 275.5V277.9M548.00 270.7V275.5M548.00 275.5V314.1M548.50 261.6V269.6M549.00 260.0V262.8M549.50 261.3V264.7M551.00 258.9V266.7M551.50 277.3V280.2M554.00 278.2V284.8M554.50 269.0V274.9M555.00 274.4V277.1M555.50 270.3V272.0M556.50 268.9V270.0M559.00 262.2V263.8M562.00 282.6V288.6M562.50 270.7V276.8M563.50 281.0V282.8M564.00 299.5V307.9M566.00 273.1V279.9M566.50 264.2V266.3M566.50 266.3V325.8M567.50 280.3V281.8M568.00 280.7V282.6M568.50 263.6V267.4M570.00 265.8V271.4M572.50 266.4V275.1M574.00 267.6V272.9M574.50 269.4V277.1M575.00 265.0V271.3M578.50 270.2V278.7M580.00 276.0V282.5M580.50 271.4V272.4M582.00 272.8V278.0M583.00 289.8V297.0M586.50 269.7V277.2M586.50 277.2V325.1M587.00 267.5V272.0M587.50 268.5V273.5M588.00 268.9V270.4M588.50 270.7V275.9M589.00 272.5V275.3M589.50 281.6V287.1M590.00 283.9V287.4M590.50 284.9V292.3M591.00 273.8V279.4M592.00 271.1V272.3M593.50 272.8V281.4M596.50 275.3V278.7M598.00 274.7V278.6M599.00 275.7V283.9M600.00 283.0V289.8M601.50 276.0V284.5M602.00 272.8V279.1M603.00 289.7V297.9M605.00 281.2V282.2M608.00 282.7V288.2M608.50 279.1V286.3M608.50 286.3V331.9M609.50 268.3V273.1M610.00 269.9V273.7M611.50 264.6V267.5M612.00 267.3V272.0M614.50 278.1V279.2M615.50 280.0V288.5M617.00 278.4V284.4M618.00 289.4V297.7M619.00 298.1V301.3M620.00 310.8V312.5M621.50 303.7V309.4M623.50 320.8V325.2M625.00 311.5V314.3M625.50 307.7V312.5M626.50 320.1V326.9M627.00 316.5V324.5M627.50 300.7V306.9M629.00 300.2V308.2M629.50 317.6V325.7M630.00 311.4V318.0M630.50 318.9V322.1M631.00 308.5V313.0M631.50 323.3V325.4M632.00 297.5V300.1M632.50 302.2V305.2M636.50 328.7V333.9M639.00 308.1V315.4M639.50 311.4V355.1M640.00 313.8V319.6M642.00 313.8V315.3M642.50 302.6V308.4M644.00 310.3V314.0M644.50 330.8V335.5M645.00 299.5V300.5M645.50 306.4V313.3M646.00 297.5V302.0M646.50 300.3V303.6M648.00 317.5V319.2M650.00 319.6V325.0M651.50 318.3V322.5M653.00 316.4V321.0M653.50 316.3V324.6M655.00 301.4V302.5M655.50 302.6V303.8M655.50 303.8V355.3M656.00 301.5V307.8M656.50 304.0V307.0M657.50 304.2V307.3M658.50 303.8V309.4M660.00 313.4V356.3M660.50 304.2V312.9M662.00 309.3V313.5M663.50 331.5V338.0M663.50 338.0V356.3M666.00 336.3V340.0M666.50 340.4V343.0M667.50 355.8V356.3M669.00 355.8V356.3M669.50 353.2V356.3M482.00 346.0V355.2M489.50 333.2V352.5M493.00 329.9V345.4M493.50 326.7V354.6M496.00 329.5V351.9M497.50 328.3V346.3M501.50 333.3V350.8M502.00 335.6V346.3M505.50 333.0V356.0M513.50 323.3V355.3M514.00 319.4V349.8M557.50 319.5V351.6M559.00 319.9V355.5M573.50 324.6V353.1M574.00 325.8V342.1M579.50 324.3V355.0M583.50 325.8V347.9M586.00 324.5V345.5M590.50 324.6V351.6M604.50 342.6V353.7M605.00 339.1V351.0" stroke="#80b6e3" stroke-width="0.8" fill="none"/><path d="M397.00 355.8V356.3M398.00 345.6V351.9M398.50 355.8V356.3M399.00 339.2V341.4M399.50 346.3V356.2M400.00 329.0V334.4M400.50 334.3V335.6M401.00 320.2V323.7M401.00 323.7V356.3M401.50 319.6V324.8M402.00 331.3V332.5M404.00 342.8V350.1M404.50 331.7V340.4M405.00 315.9V322.6M406.00 316.9V324.5M406.00 324.5V356.3M406.50 319.4V327.6M407.50 323.5V328.3M408.00 324.6V331.1M408.00 331.1V356.3M409.50 329.4V334.4M410.00 312.6V318.3M411.50 304.5V312.8M414.00 318.8V325.6M415.00 297.6V306.2M415.50 305.3V306.4M416.00 305.1V307.3M416.50 313.1V317.2M417.00 317.6V319.8M418.00 316.4V320.1M418.50 322.0V356.3M419.50 320.5V325.2M420.00 306.3V309.8M420.50 339.5V347.5M421.00 307.5V311.6M421.50 309.6V318.3M422.00 305.6V310.0M422.50 301.2V303.3M423.00 304.7V307.0M423.50 305.7V356.3M424.00 310.9V319.8M424.50 320.1V323.2M425.50 302.3V306.6M426.00 306.7V308.0M426.50 308.8V315.6M427.00 308.8V311.3M427.50 311.0V316.2M428.00 309.3V315.4M428.00 315.4V352.4M429.00 334.3V339.4M429.50 340.4V344.7M432.50 317.0V318.1M433.00 312.0V316.9M433.50 314.8V316.4M434.00 310.0V318.5M434.50 310.1V312.6M435.50 318.1V320.1M436.00 315.0V356.3M436.50 307.7V314.2M437.50 301.3V305.2M438.00 313.9V317.0M438.50 312.1V356.3M439.00 318.9V326.6M439.50 312.6V317.5M440.50 308.5V316.0M441.00 311.7V320.7M441.50 300.9V302.5M441.50 302.5V356.3M442.50 310.1V313.4M443.00 301.1V307.6M443.50 322.8V324.7M443.50 324.7V356.3M444.00 298.3V305.4M444.50 299.7V306.4M444.50 306.4V354.8M446.00 326.7V328.9M447.00 301.6V306.7M449.00 298.6V306.4M450.00 297.4V303.5M451.00 305.8V313.4M451.00 313.4V350.2M451.50 304.2V347.2M452.00 299.9V307.9M452.50 299.1V306.2M453.00 302.3V308.0M454.00 302.9V305.9M455.00 308.1V309.1M456.00 297.8V304.2M456.50 305.6V310.6M457.00 293.4V300.5M457.50 299.3V306.6M458.50 290.8V293.1M459.00 291.2V294.6M459.50 292.6V301.3M460.00 300.7V304.7M460.00 304.7V354.0M461.50 296.2V303.8M462.50 321.3V329.0M463.00 295.2V299.3M463.00 299.3V355.5M464.00 297.2V300.1M465.00 293.0V300.6M465.50 292.7V296.3M466.00 301.8V304.1M467.50 296.1V297.9M468.00 296.6V303.0M468.50 296.2V303.5M469.00 328.2V334.3M469.50 307.5V354.9M470.00 308.1V355.7M470.50 308.6V354.0M472.00 300.3V304.2M472.50 298.6V307.3M473.00 321.9V330.0M473.00 330.0V356.3M473.50 303.6V305.6M474.00 307.1V355.4M474.50 291.2V298.3M476.50 296.0V298.1M477.00 294.2V298.5M477.50 301.9V304.9M478.00 295.9V299.6M478.50 297.7V299.2M478.50 299.2V351.4M480.50 300.7V309.7M481.00 284.4V290.4M481.50 302.0V307.7M482.00 299.3V346.0M482.50 283.6V288.3M483.00 296.8V298.1M484.00 276.7V285.0M484.50 286.4V293.8M485.00 280.2V284.0M485.50 272.3V278.6M486.00 270.9V277.1M486.00 277.1V330.6M486.50 270.2V273.2M487.00 271.5V273.6M488.00 280.1V331.5M488.50 274.1V276.2M489.00 287.1V289.1M489.50 278.4V279.8M490.00 292.6V328.8M490.50 302.8V309.6M490.50 309.6V332.6M491.00 278.1V280.4M491.50 271.8V277.8M492.00 286.3V289.7M493.00 282.6V288.1M494.50 275.8V277.1M495.00 276.9V279.4M496.00 271.1V275.9M497.00 270.8V272.1M497.50 269.2V275.3M498.00 309.2V330.1M498.50 269.1V273.8M499.50 277.7V285.9M500.50 264.8V271.0M501.50 265.6V269.3M503.00 275.8V280.4M503.50 264.3V269.1M504.00 296.3V301.1M504.50 264.8V270.4M505.50 273.4V333.0M506.00 274.2V280.7M506.50 279.2V286.9M507.00 276.6V284.6M507.50 272.9V276.4M508.00 277.2V280.9M508.50 264.1V271.8M509.00 266.4V268.5M509.50 291.6V295.6M511.00 276.7V322.8M511.50 268.6V322.6M512.50 261.5V264.4M513.00 279.9V286.3M513.50 267.7V271.8M514.00 276.3V280.5M514.50 259.7V262.4M515.00 261.7V269.3M515.00 269.3V319.8M515.50 271.7V278.1M516.00 281.4V285.6M516.50 263.2V268.3M517.50 263.5V266.3M518.00 271.5V273.5M519.00 266.5V275.0M520.00 255.9V258.0M522.50 256.9V265.1M522.50 265.1V305.5M523.00 255.2V256.4M525.50 258.1V259.5M525.50 259.5V300.3M526.50 248.2V256.5M527.50 250.8V259.0M528.00 245.5V247.1M528.50 262.6V263.7M529.50 243.2V248.3M530.00 247.0V255.3M530.50 246.2V250.8M531.00 242.2V247.7M532.00 240.2V246.4M532.50 257.2V259.2M533.50 235.1V240.7M534.00 245.6V250.3M534.50 241.2V295.3M536.00 238.9V244.3M537.00 261.4V269.2M537.50 258.1V263.5M542.00 254.8V259.0M542.50 251.1V258.6M542.50 258.6V305.0M543.00 254.8V260.3M544.00 255.4V261.8M544.50 253.2V257.8M544.50 257.8V310.0M546.00 260.8V262.4M546.50 265.5V273.9M547.00 263.0V264.1M547.50 278.0V284.7M550.00 284.7V291.5M550.50 265.2V270.2M552.00 262.2V265.0M552.50 263.6V271.5M553.00 268.2V270.4M553.50 283.3V287.2M554.00 284.8V321.7M556.00 276.8V279.3M557.00 268.1V273.7M557.50 279.6V288.2M558.00 283.6V291.6M558.00 291.6V322.7M558.50 264.6V266.1M559.50 265.4V272.8M560.00 262.9V271.1M560.50 266.1V268.1M561.00 264.0V266.6M561.50 278.7V286.0M563.00 286.4V294.8M564.00 307.9V323.6M564.50 285.2V291.2M564.50 291.2V321.8M565.00 272.4V279.2M565.50 269.9V271.1M567.00 262.8V269.2M567.50 281.8V326.3M568.00 282.6V324.7M569.00 268.5V272.0M569.00 272.0V321.8M569.50 283.8V289.0M569.50 289.0V324.1M570.50 267.4V271.0M571.00 275.9V280.4M571.50 284.3V291.9M571.50 291.9V322.9M572.00 269.6V275.8M573.00 270.0V276.5M573.50 268.2V275.3M575.50 270.3V275.6M576.00 274.2V277.1M576.50 275.1V277.0M577.00 271.7V275.8M577.50 268.1V271.2M578.00 270.3V273.1M578.00 273.1V325.8M579.00 275.7V277.9M579.50 271.7V276.1M581.00 281.3V284.8M581.50 285.8V288.9M582.50 271.6V275.9M582.50 275.9V323.7M583.50 287.4V294.9M584.00 289.8V295.0M584.50 272.6V274.2M584.50 274.2V325.6M585.00 292.0V300.1M585.50 269.3V277.0M586.00 285.1V291.2M587.00 272.0V326.7M590.50 292.3V324.6M591.50 285.1V288.1M592.50 273.5V281.8M593.00 273.9V276.4M594.00 284.7V287.2M594.50 278.5V287.3M595.00 274.9V282.9M595.50 284.3V288.7M596.00 286.3V292.8M597.00 273.4V280.7M597.50 271.8V280.6M598.50 282.0V289.1M598.50 289.1V328.1M599.50 284.6V286.4M600.50 281.6V289.7M601.00 277.6V280.6M602.50 289.8V294.1M602.50 294.1V341.3M603.50 284.7V286.0M604.00 289.3V292.3M604.50 275.0V281.4M604.50 281.4V342.6M605.50 270.6V276.8M606.00 270.2V278.2M606.50 279.9V287.2M607.00 272.3V277.3M607.50 289.6V292.8M609.00 264.2V265.5M610.50 285.4V294.4M611.00 278.1V279.9M612.50 264.1V266.3M613.00 271.1V277.3M613.50 269.5V273.2M614.00 264.6V270.3M615.00 290.6V292.6M616.00 308.4V316.1M616.50 285.5V287.4M617.50 279.6V286.5M617.50 286.5V337.3M618.50 291.9V298.6M619.50 298.5V305.7M620.50 301.0V302.0M621.00 320.8V329.7M621.50 309.4V355.2M622.00 314.5V322.0M622.50 318.9V327.1M623.00 318.0V325.9M623.50 325.2V356.3M624.00 322.6V331.5M624.50 305.7V313.6M626.00 314.9V322.4M628.00 306.8V313.1M628.50 317.3V319.2M632.00 300.1V356.3M633.00 330.9V335.9M633.50 320.9V325.3M633.50 325.3V356.3M634.00 315.1V317.0M634.50 301.5V304.2M635.00 305.5V314.0M635.50 316.3V321.5M635.50 321.5V356.3M636.00 308.4V317.0M637.00 305.9V313.5M637.50 307.2V314.8M638.00 310.1V316.0M638.50 313.8V315.8M639.50 305.4V311.4M640.50 333.5V336.5M640.50 336.5V352.2M641.00 303.2V309.9M641.50 300.0V302.7M643.00 306.7V311.0M643.50 305.9V308.8M646.00 302.0V356.3M646.50 303.6V356.3M647.00 323.5V326.5M647.50 306.9V313.0M647.50 313.0V356.3M648.50 334.3V342.6M649.00 299.3V305.7M649.00 305.7V356.3M649.50 325.9V333.5M650.50 298.9V304.4M651.00 307.3V312.8M652.00 307.1V309.0M652.50 333.4V339.9M654.00 303.4V308.3M654.50 297.2V305.3M657.00 312.0V315.1M658.00 296.3V297.5M659.00 302.4V310.5M659.50 295.5V297.3M660.00 309.9V313.4M661.00 318.4V322.7M661.50 307.1V309.3M662.50 313.9V322.3M663.00 313.2V321.4M664.00 334.1V338.1M664.50 319.9V323.3M664.50 323.3V356.3M665.00 355.3V355.9M665.50 323.3V325.1M665.50 325.1V356.3M667.00 355.8V356.3M668.00 355.8V356.3M668.50 349.7V353.1M670.00 355.8V356.3M480.00 349.2V355.3M480.50 348.4V351.1M482.50 344.8V352.0M483.00 341.8V348.4M483.50 338.7V350.8M485.50 333.7V349.8M487.50 331.7V348.0M488.00 331.5V351.0M488.50 328.9V353.7M490.00 328.8V342.0M491.00 329.4V355.9M492.00 331.2V348.8M494.00 330.4V350.9M494.50 326.3V350.4M495.00 328.7V353.2M496.50 326.5V337.3M498.00 330.1V353.4M499.00 330.5V353.6M500.00 328.6V351.6M501.00 330.8V356.3M502.50 337.6V354.9M508.00 331.8V351.4M509.50 329.0V347.6M511.50 322.6V354.9M512.50 318.2V356.2M519.00 314.9V343.0M546.00 309.7V337.5M553.00 318.4V347.7M553.50 321.0V355.4M554.50 320.2V355.9M556.00 321.6V343.4M562.50 322.6V350.2M563.50 320.6V353.1M565.00 327.5V342.5M568.50 323.8V339.8M570.50 326.5V340.9M572.00 323.6V354.1M572.50 322.0V352.2M574.50 324.4V351.6M577.00 324.7V350.5M579.00 324.9V356.1M581.00 321.2V338.9M581.50 327.8V348.6M582.00 322.2V346.2M585.00 327.3V348.8M585.50 324.5V345.6M587.50 320.9V353.2M589.00 327.7V334.0M594.50 326.2V341.0M595.00 326.2V353.7M599.50 327.1V354.6M602.50 341.3V349.4M603.00 340.0V355.0M606.00 339.6V355.4" stroke="#2a82c9" stroke-width="0.9" fill="none"/><path d="M398.00 351.9V356.3M399.00 341.4V355.6M400.00 334.4V356.3M400.50 335.6V356.3M401.50 324.8V356.3M402.00 332.5V356.3M402.50 346.5V356.3M403.00 344.7V355.9M403.50 346.9V356.0M404.50 340.4V355.7M405.00 322.6V354.4M405.50 321.0V356.3M406.50 327.6V356.3M407.50 328.3V356.3M408.50 328.6V354.8M409.50 334.4V356.3M410.00 318.3V356.3M410.50 327.2V356.3M411.00 307.9V356.3M411.50 312.8V355.9M412.00 305.1V353.4M412.50 317.5V355.7M413.00 320.0V356.3M413.50 312.3V355.0M414.00 325.6V356.2M414.50 316.7V354.4M415.00 306.2V356.3M415.50 306.4V356.3M416.00 307.3V356.3M417.00 319.8V355.9M417.50 321.6V356.0M418.00 320.1V355.0M419.00 347.8V356.3M419.50 325.2V356.3M420.00 309.8V356.1M420.50 347.5V356.3M421.00 311.6V356.3M421.50 318.3V356.3M422.00 310.0V356.3M422.50 303.3V356.3M423.00 307.0V356.3M424.00 319.8V351.3M424.50 323.2V356.3M425.00 308.3V356.3M425.50 306.6V354.1M426.00 308.0V356.3M426.50 315.6V356.3M427.00 311.3V356.3M427.50 316.2V356.3M428.50 321.3V356.3M429.00 339.4V355.6M429.50 344.7V356.3M430.00 309.1V356.3M430.50 314.4V356.3M431.00 311.3V355.3M431.50 304.1V353.6M432.00 328.9V354.1M432.50 318.1V356.3M433.00 316.9V356.3M433.50 316.4V354.8M434.00 318.5V355.4M434.50 312.6V352.4M435.00 319.0V355.7M435.50 320.1V356.2M436.50 314.2V356.3M437.00 320.0V356.3M437.50 305.2V356.3M438.00 317.0V355.9M439.00 326.6V355.4M439.50 317.5V356.3M440.00 310.8V356.3M440.50 316.0V356.3M441.00 320.7V356.3M442.00 319.4V354.5M442.50 313.4V356.3M443.00 307.6V356.3M444.00 305.4V356.3M445.00 314.9V356.3M445.50 317.6V356.3M446.00 328.9V355.0M446.50 305.5V351.3M447.00 306.7V354.0M447.50 304.8V356.3M448.00 301.4V352.7M448.50 303.8V353.6M449.00 306.4V352.1M450.00 303.5V351.1M450.50 319.1V343.3M452.00 307.9V345.6M452.50 306.2V347.9M453.00 308.0V351.0M453.50 309.1V344.3M454.00 305.9V348.6M454.50 301.8V345.9M455.00 309.1V350.0M455.50 316.4V347.7M456.00 304.2V350.0M456.50 310.6V354.6M457.00 300.5V354.3M457.50 306.6V356.3M458.00 299.2V356.3M458.50 293.1V356.3M459.00 294.6V356.3M459.50 301.3V356.3M460.50 298.6V356.3M461.00 300.6V354.8M461.50 303.8V356.3M462.00 327.6V355.7M462.50 329.0V356.3M463.50 304.3V354.1M464.00 300.1V356.3M464.50 299.9V356.3M465.00 300.6V356.3M465.50 296.3V356.3M466.00 304.1V355.9M466.50 302.4V354.9M467.00 311.7V356.3M467.50 297.9V356.3M468.00 303.0V356.3M468.50 303.5V356.3M469.00 334.3V356.3M471.50 315.1V356.3M472.00 304.2V356.3M472.50 307.3V356.3M473.50 305.6V353.9M474.50 298.3V356.3M475.00 295.5V356.3M475.50 295.3V356.0M476.00 302.5V356.0M476.50 298.1V353.3M477.00 298.5V354.1M477.50 304.9V353.7M478.00 299.6V356.3M479.00 300.3V353.4M479.50 310.7V351.9M480.00 315.5V349.2M480.50 309.7V348.4M481.00 290.4V348.9M481.50 307.7V344.7M482.50 288.3V344.8M483.50 280.0V338.7M484.00 285.0V338.1M484.50 293.8V334.2M485.00 284.0V336.3M486.50 273.2V328.2M487.00 273.6V325.9M487.50 287.2V331.7M488.50 276.2V328.9M489.00 289.1V329.8M489.50 279.8V333.2M491.00 280.4V329.4M491.50 277.8V333.7M492.00 289.7V331.2M492.50 275.5V331.8M493.00 288.1V329.9M493.50 309.5V326.7M494.00 274.5V330.4M494.50 277.1V326.3M495.00 279.4V328.7M495.50 285.7V330.9M496.00 275.9V329.5M496.50 289.1V326.5M497.00 272.1V329.2M497.50 275.3V328.3M498.50 273.8V330.9M499.00 292.5V330.5M499.50 285.9V329.3M500.00 285.3V328.6M500.50 271.0V333.2M501.00 283.6V330.8M501.50 269.3V333.3M502.00 273.4V335.6M502.50 281.4V337.6M503.00 280.4V332.8M503.50 269.1V334.4M504.00 301.1V328.8M504.50 270.4V334.2M505.00 268.8V334.9M506.00 280.7V328.2M506.50 286.9V327.8M507.00 284.6V329.1M507.50 276.4V331.0M508.00 280.9V331.8M508.50 271.8V328.0M509.00 268.5V327.9M509.50 295.6V329.0M510.00 304.8V322.8M510.50 294.7V326.0M512.00 276.1V324.3M512.50 264.4V318.2M513.00 286.3V321.9M514.00 280.5V319.4M514.50 262.4V319.5M515.50 278.1V316.4M516.00 285.6V317.6M516.50 268.3V316.0M517.00 278.6V314.9M517.50 266.3V312.2M518.00 273.5V316.0M518.50 267.1V314.1M519.00 275.0V314.9M519.50 259.6V310.6M520.00 258.0V313.6M520.50 263.3V308.0M521.00 257.8V304.8M521.50 252.6V306.3M522.00 276.3V308.1M523.00 256.4V302.2M524.00 276.4V306.4M524.50 259.0V301.0M525.00 256.1V299.7M526.00 272.6V303.6M526.50 256.5V300.5M527.00 255.0V302.7M527.50 259.0V299.2M528.00 247.1V298.8M528.50 263.7V298.9M529.00 267.3V301.3M529.50 248.3V296.3M530.00 255.3V293.8M531.00 247.7V297.1M531.50 246.3V293.5M532.00 246.4V295.2M532.50 259.2V295.2M533.00 254.5V293.2M533.50 240.7V295.1M534.00 250.3V295.1M535.00 263.1V295.5M536.00 244.3V298.5M536.50 262.6V297.9M537.00 269.2V295.1M537.50 263.5V297.5M538.00 254.2V298.5M538.50 254.2V295.3M539.00 256.5V299.1M539.50 253.0V297.2M540.00 262.0V302.4M540.50 265.3V300.4M541.00 267.3V303.4M541.50 255.2V301.5M543.00 260.3V301.1M543.50 263.9V304.2M544.00 261.8V304.0M545.00 263.6V311.4M545.50 277.9V311.0M546.00 262.4V309.7M546.50 273.9V313.1M547.00 264.1V310.5M547.50 284.7V311.1M548.50 269.6V314.4M549.00 262.8V310.9M549.50 264.7V318.3M550.00 291.5V314.5M550.50 270.2V315.9M551.00 266.7V321.3M551.50 280.2V321.0M552.00 265.0V316.3M552.50 271.5V318.4M553.00 270.4V318.4M553.50 287.2V321.0M554.50 274.9V320.2M555.00 277.1V322.6M555.50 272.0V321.4M556.00 279.3V321.6M556.50 270.0V320.5M557.00 273.7V318.7M557.50 288.2V319.5M558.50 266.1V323.1M559.00 263.8V319.9M559.50 272.8V325.4M560.00 271.1V323.7M560.50 268.1V320.1M561.00 266.6V324.4M561.50 286.0V319.0M562.00 288.6V323.6M562.50 276.8V322.6M563.00 294.8V323.8M563.50 282.8V320.6M565.00 279.2V327.5M565.50 271.1V324.8M566.00 279.9V326.6M567.00 269.2V327.0M568.50 267.4V323.8M570.00 271.4V324.3M570.50 271.0V326.5M571.00 280.4V324.8M572.00 275.8V323.6M572.50 275.1V322.0M573.00 276.5V323.4M573.50 275.3V324.6M574.00 272.9V325.8M574.50 277.1V324.4M575.00 271.3V322.8M575.50 275.6V324.7M576.00 277.1V323.9M576.50 277.0V326.7M577.00 275.8V324.7M577.50 271.2V327.4M578.50 278.7V326.7M579.00 277.9V324.9M579.50 276.1V324.3M580.00 282.5V325.9M580.50 272.4V331.2M581.00 284.8V321.2M581.50 288.9V327.8M582.00 278.0V322.2M583.00 297.0V322.9M583.50 294.9V325.8M584.00 295.0V323.1M585.00 300.1V327.3M585.50 277.0V324.5M586.00 291.2V324.5M587.50 273.5V320.9M588.00 270.4V321.3M588.50 275.9V323.1M589.00 275.3V327.7M589.50 287.1V325.7M590.00 287.4V325.4M591.00 279.4V325.5M591.50 288.1V326.1M592.00 272.3V325.2M592.50 281.8V325.6M593.00 276.4V326.9M593.50 281.4V327.0M594.00 287.2V326.5M594.50 287.3V326.2M595.00 282.9V326.2M595.50 288.7V321.9M596.00 292.8V324.6M596.50 278.7V325.5M597.00 280.7V324.0M597.50 280.6V323.6M598.00 278.6V322.6M599.00 283.9V324.1M599.50 286.4V327.1M600.00 289.8V325.6M600.50 289.7V329.7M601.00 280.6V330.5M601.50 284.5V332.2M602.00 279.1V333.4M603.00 297.9V340.0M603.50 286.0V341.7M604.00 292.3V347.8M605.00 282.2V339.1M605.50 276.8V339.8M606.00 278.2V339.6M606.50 287.2V337.8M607.00 277.3V338.5M607.50 292.8V333.1M608.00 288.2V332.8M609.00 265.5V333.2M609.50 273.1V331.2M610.00 273.7V329.5M610.50 294.4V323.7M611.00 279.9V325.7M611.50 267.5V331.2M612.00 272.0V326.2M612.50 266.3V325.4M613.00 277.3V330.4M613.50 273.2V326.5M614.00 270.3V326.1M614.50 279.2V325.2M615.00 292.6V324.8M615.50 288.5V327.1M616.00 316.1V331.1M616.50 287.4V329.7M617.00 284.4V333.7M618.00 297.7V340.7M618.50 298.6V340.9M619.00 301.3V351.1M619.50 305.7V356.3M620.00 312.5V353.7M620.50 302.0V356.3M621.00 329.7V356.3M622.00 322.0V353.8M622.50 327.1V356.3M623.00 325.9V356.3M624.00 331.5V356.3M624.50 313.6V356.3M625.00 314.3V356.3M625.50 312.5V356.3M626.00 322.4V356.3M626.50 326.9V356.3M627.00 324.5V356.3M627.50 306.9V356.3M628.00 313.1V356.3M628.50 319.2V356.3M629.00 308.2V355.9M629.50 325.7V355.4M630.00 318.0V356.2M630.50 322.1V356.3M631.00 313.0V356.0M631.50 325.4V356.3M632.50 305.2V356.3M633.00 335.9V354.5M634.00 317.0V356.3M634.50 304.2V352.9M635.00 314.0V356.3M636.00 317.0V356.3M636.50 333.9V356.3M637.00 313.5V356.3M637.50 314.8V356.3M638.00 316.0V356.3M638.50 315.8V355.8M639.00 315.4V354.4M640.00 319.6V356.3M641.00 309.9V353.4M641.50 302.7V356.3M642.00 315.3V356.3M642.50 308.4V355.8M643.00 311.0V356.3M643.50 308.8V356.3M644.00 314.0V356.3M644.50 335.5V356.3M645.00 300.5V354.6M645.50 313.3V356.3M647.00 326.5V355.7M648.00 319.2V356.3M648.50 342.6V354.7M649.50 333.5V356.3M650.00 325.0V356.3M650.50 304.4V356.3M651.00 312.8V356.3M651.50 322.5V354.0M652.00 309.0V356.3M652.50 339.9V356.3M653.00 321.0V356.3M653.50 324.6V354.8M654.00 308.3V356.3M654.50 305.3V354.4M655.00 302.5V356.3M656.00 307.8V356.3M656.50 307.0V356.3M657.00 315.1V356.3M657.50 307.3V356.3M658.00 297.5V354.0M658.50 309.4V356.3M659.00 310.5V356.3M659.50 297.3V356.3M660.50 312.9V356.3M661.00 322.7V354.6M661.50 309.3V356.3M662.00 313.5V356.3M662.50 322.3V356.3M663.00 321.4V353.1M664.00 338.1V356.3M666.00 340.0V355.1M666.50 343.0V353.0M668.50 353.1V355.6M481.00 348.9V351.8M484.00 338.1V348.1M489.00 329.8V341.7M499.50 329.3V354.5M500.50 333.2V355.8M506.00 328.2V353.7M507.00 329.1V353.2M558.00 322.7V344.6M560.50 320.1V350.9M561.00 324.4V355.2M566.00 326.6V349.2M567.00 327.0V343.9M569.50 324.1V347.9M571.50 322.9V349.1M575.00 322.8V329.8M576.00 323.9V354.3M580.50 331.2V347.8M582.50 323.7V351.0M586.50 325.1V352.1M590.00 325.4V355.9M592.50 325.6V343.0M597.50 323.6V352.2M601.00 330.5V346.0" stroke="#0070bd" stroke-width="1.0" fill="none"/><path d="M399.00 355.6V356.1M399.50 356.2V356.2M403.00 355.9V356.2M403.50 356.0V356.3M404.00 356.2V356.3M404.50 355.7V355.9M405.00 354.4V355.8M408.50 354.8V356.2M411.50 355.9V356.3M412.00 353.4V356.2M412.50 355.7V355.9M413.50 355.0V356.0M414.00 356.2V356.2M414.50 354.4V356.2M415.00 356.3V356.3M417.00 355.9V356.0M417.50 356.0V356.2M418.00 355.0V355.9M420.00 356.1V356.2M424.00 351.3V356.2M425.50 354.1V355.7M428.00 352.4V353.4M429.00 355.6V356.2M431.00 355.3V356.0M431.50 353.6V354.2M432.00 354.1V356.0M433.50 354.8V355.2M434.00 355.4V355.8M434.50 352.4V354.6M435.00 355.7V356.3M435.50 356.2V356.3M438.00 355.9V356.3M439.00 355.4V356.1M442.00 354.5V356.0M444.50 354.8V355.3M446.00 355.0V356.3M460.00 354.0V354.9M461.00 354.8V356.0M462.00 355.7V355.9M463.00 355.5V356.2M463.50 354.1V355.4M466.00 355.9V356.1M466.50 354.9V356.0M469.50 354.9V355.8M470.00 355.7V356.1M470.50 354.0V354.2M471.00 355.4V356.1M473.50 353.9V355.3M474.00 355.4V355.9M475.50 356.0V356.3M476.00 356.0V356.3M476.50 353.3V355.4M477.00 354.1V356.1M477.50 353.7V355.7M478.50 351.4V355.8M479.00 353.4V354.8M479.50 351.9V355.1M619.00 351.1V355.1M620.00 353.7V356.1M621.50 355.2V356.0M622.00 353.8V355.6M629.00 355.9V356.2M629.50 355.4V356.3M630.00 356.2V356.3M631.00 356.0V356.3M633.00 354.5V355.8M634.50 352.9V355.4M638.50 355.8V356.1M639.00 354.4V355.1M639.50 355.1V355.8M640.50 352.2V355.4M641.00 353.4V354.5M642.50 355.8V356.3M645.00 354.6V355.4M647.00 355.7V356.1M648.50 354.7V355.7M651.50 354.0V355.9M653.50 354.8V355.4M654.50 354.4V356.2M655.50 355.3V356.0M658.00 354.0V355.7M661.00 354.6V356.2M663.00 353.1V355.5M665.00 355.9V356.3M666.00 355.1V356.0M666.50 353.0V354.3M668.50 355.6V356.2" stroke="#0a70bd" stroke-width="0.9" fill="none"/><path d="M533.3 226V260" stroke="#4a94d2" stroke-width="0.9"/>
<line x1="517.3" y1="207.2" x2="517.3" y2="356.3" stroke="#d81e24" stroke-width="1.25" stroke-dasharray="1.3 1.26"/>
<line x1="549.5" y1="207.2" x2="549.5" y2="356.3" stroke="#d81e24" stroke-width="1.25" stroke-dasharray="1.3 1.26"/>
<line x1="520.3" y1="230.6" x2="546.5" y2="230.6" stroke="#c4121a" stroke-width="1.3"/>
<path d="M517.5999999999999 230.6 l4.8 -2.7 v5.4z M549.2 230.6 l-4.8 -2.7 v5.4z" fill="#c4121a"/>
<path d="M401.40 356.3v-6 M401.40 207.2v6 M434.43 356.3v-6 M434.43 207.2v6 M467.46 356.3v-6 M467.46 207.2v6 M500.49 356.3v-6 M500.49 207.2v6 M533.52 356.3v-6 M533.52 207.2v6 M566.55 356.3v-6 M566.55 207.2v6 M599.58 356.3v-6 M599.58 207.2v6 M632.61 356.3v-6 M632.61 207.2v6 M665.64 356.3v-6 M665.64 207.2v6 M389.0 237.02h6 M682.5 237.02h-6 M389.0 266.84h6 M682.5 266.84h-6 M389.0 296.66h6 M682.5 296.66h-6 M389.0 326.48h6 M682.5 326.48h-6" stroke="#262626" stroke-width="1.2" fill="none"/>
<path d="M389.0 207.2H682.5V356.3H389.0Z" fill="none" stroke="#555" stroke-width="1.4"/>
<g opacity="0.995" stroke="#1a1a1a" stroke-width="0.2">
<text x="103.69" y="12.50" style='font-family:"Liberation Serif",serif;font-style:italic;font-weight:normal;font-size:17.5px' fill="#1a1a1a" textLength="8.34" lengthAdjust="spacingAndGlyphs">δ</text>
<text x="112.86" y="12.50" style='font-family:"Liberation Serif",serif;font-style:italic;font-weight:normal;font-size:17.5px' fill="#1a1a1a" textLength="9.40" lengthAdjust="spacingAndGlyphs">ν</text>
<text x="121.27" y="16.10" style='font-family:"Liberation Serif",serif;font-style:normal;font-weight:normal;font-size:13.5px' fill="#1a1a1a" textLength="20.09" lengthAdjust="spacingAndGlyphs">par</text>
<text x="147.78" y="13.20" style='font-family:"Liberation Serif",serif;font-style:normal;font-weight:normal;font-size:17.5px' fill="#1a1a1a" textLength="12.31" lengthAdjust="spacingAndGlyphs">=</text>
<text x="165.10" y="12.50" style='font-family:"Liberation Serif",serif;font-style:normal;font-weight:normal;font-size:17.5px' fill="#1a1a1a" textLength="9.88" lengthAdjust="spacingAndGlyphs">2</text>
<text x="174.12" y="12.50" style='font-family:"Liberation Serif",serif;font-style:normal;font-weight:normal;font-size:17.5px' fill="#1a1a1a" textLength="10.91" lengthAdjust="spacingAndGlyphs">Δ</text>
<text x="184.57" y="12.50" style='font-family:"Liberation Serif",serif;font-style:italic;font-weight:normal;font-size:17.5px' fill="#1a1a1a" textLength="8.99" lengthAdjust="spacingAndGlyphs">ν</text>
<text x="193.42" y="16.10" style='font-family:"Liberation Serif",serif;font-style:normal;font-weight:normal;font-size:12.5px' fill="#1a1a1a" textLength="7.31" lengthAdjust="spacingAndGlyphs">0</text>
<text x="205.56" y="13.20" style='font-family:"Liberation Serif",serif;font-style:normal;font-weight:normal;font-size:17.5px' fill="#1a1a1a" textLength="13.65" lengthAdjust="spacingAndGlyphs">=</text>
<text x="223.65" y="12.70" style='font-family:"Liberation Serif",serif;font-style:normal;font-weight:normal;font-size:17.5px' fill="#1a1a1a" textLength="19.20" lengthAdjust="spacingAndGlyphs">10</text>
<text x="246.90" y="12.70" style='font-family:"Liberation Sans",sans-serif;font-style:normal;font-weight:normal;font-size:16px' fill="#1a1a1a" textLength="35.89" lengthAdjust="spacingAndGlyphs">GHz</text>
<text x="453.49" y="12.50" style='font-family:"Liberation Serif",serif;font-style:italic;font-weight:normal;font-size:17.5px' fill="#1a1a1a" textLength="8.34" lengthAdjust="spacingAndGlyphs">δ</text>
<text x="462.66" y="12.50" style='font-family:"Liberation Serif",serif;font-style:italic;font-weight:normal;font-size:17.5px' fill="#1a1a1a" textLength="9.40" lengthAdjust="spacingAndGlyphs">ν</text>
<text x="471.07" y="16.10" style='font-family:"Liberation Serif",serif;font-style:normal;font-weight:normal;font-size:13.5px' fill="#1a1a1a" textLength="20.09" lengthAdjust="spacingAndGlyphs">par</text>
<text x="497.58" y="13.20" style='font-family:"Liberation Serif",serif;font-style:normal;font-weight:normal;font-size:17.5px' fill="#1a1a1a" textLength="12.31" lengthAdjust="spacingAndGlyphs">=</text>
<text x="514.90" y="12.50" style='font-family:"Liberation Serif",serif;font-style:normal;font-weight:normal;font-size:17.5px' fill="#1a1a1a" textLength="9.88" lengthAdjust="spacingAndGlyphs">2</text>
<text x="523.92" y="12.50" style='font-family:"Liberation Serif",serif;font-style:normal;font-weight:normal;font-size:17.5px' fill="#1a1a1a" textLength="10.91" lengthAdjust="spacingAndGlyphs">Δ</text>
<text x="534.37" y="12.50" style='font-family:"Liberation Serif",serif;font-style:italic;font-weight:normal;font-size:17.5px' fill="#1a1a1a" textLength="8.99" lengthAdjust="spacingAndGlyphs">ν</text>
<text x="543.22" y="16.10" style='font-family:"Liberation Serif",serif;font-style:normal;font-weight:normal;font-size:12.5px' fill="#1a1a1a" textLength="7.31" lengthAdjust="spacingAndGlyphs">0</text>
<text x="555.36" y="13.20" style='font-family:"Liberation Serif",serif;font-style:normal;font-weight:normal;font-size:17.5px' fill="#1a1a1a" textLength="13.65" lengthAdjust="spacingAndGlyphs">=</text>
<text x="573.45" y="12.70" style='font-family:"Liberation Serif",serif;font-style:normal;font-weight:normal;font-size:17.5px' fill="#1a1a1a" textLength="19.20" lengthAdjust="spacingAndGlyphs">10</text>
<text x="596.70" y="12.70" style='font-family:"Liberation Sans",sans-serif;font-style:normal;font-weight:normal;font-size:16px' fill="#1a1a1a" textLength="35.89" lengthAdjust="spacingAndGlyphs">GHz</text>
<text x="26.56" y="14.90" style='font-family:"Liberation Sans",sans-serif;font-style:normal;font-weight:bold;font-size:16px' fill="#1a1a1a" textLength="7.75" lengthAdjust="spacingAndGlyphs">a</text>
<text x="372.97" y="15.60" style='font-family:"Liberation Sans",sans-serif;font-style:normal;font-weight:bold;font-size:15px' fill="#1a1a1a" textLength="9.40" lengthAdjust="spacingAndGlyphs">b</text>
<text x="43.30" y="40.40" style='font-family:"Liberation Sans",sans-serif;font-style:normal;font-weight:normal;font-size:14px' fill="#1a1a1a" textLength="68.49" lengthAdjust="spacingAndGlyphs">Modulation</text>
<text x="116.78" y="39.90" style='font-family:"Liberation Serif",serif;font-style:italic;font-weight:normal;font-size:16px' fill="#1a1a1a" textLength="7.18" lengthAdjust="spacingAndGlyphs">ξ</text>
<text x="124.27" y="39.90" style='font-family:"Liberation Serif",serif;font-style:normal;font-weight:normal;font-size:16px' fill="#1a1a1a" textLength="5.59" lengthAdjust="spacingAndGlyphs">(</text>
<text x="130.59" y="39.90" style='font-family:"Liberation Serif",serif;font-style:italic;font-weight:normal;font-size:16px' fill="#1a1a1a" textLength="5.93" lengthAdjust="spacingAndGlyphs">z</text>
<text x="137.40" y="39.90" style='font-family:"Liberation Serif",serif;font-style:normal;font-weight:normal;font-size:16px' fill="#1a1a1a" textLength="4.04" lengthAdjust="spacingAndGlyphs">/</text>
<text x="144.46" y="39.90" style='font-family:"Liberation Serif",serif;font-style:italic;font-weight:normal;font-size:16px' fill="#1a1a1a" textLength="7.08" lengthAdjust="spacingAndGlyphs">L</text>
<text x="151.76" y="39.90" style='font-family:"Liberation Serif",serif;font-style:normal;font-weight:normal;font-size:16px' fill="#1a1a1a" textLength="5.72" lengthAdjust="spacingAndGlyphs">)</text>
<text x="392.20" y="48.40" style='font-family:"Liberation Sans",sans-serif;font-style:normal;font-weight:normal;font-size:14px' fill="#1a1a1a" textLength="68.49" lengthAdjust="spacingAndGlyphs">Modulation</text>
<text x="465.68" y="47.90" style='font-family:"Liberation Serif",serif;font-style:italic;font-weight:normal;font-size:16px' fill="#1a1a1a" textLength="7.18" lengthAdjust="spacingAndGlyphs">ξ</text>
<text x="473.17" y="47.90" style='font-family:"Liberation Serif",serif;font-style:normal;font-weight:normal;font-size:16px' fill="#1a1a1a" textLength="5.59" lengthAdjust="spacingAndGlyphs">(</text>
<text x="479.49" y="47.90" style='font-family:"Liberation Serif",serif;font-style:italic;font-weight:normal;font-size:16px' fill="#1a1a1a" textLength="5.93" lengthAdjust="spacingAndGlyphs">z</text>
<text x="486.30" y="47.90" style='font-family:"Liberation Serif",serif;font-style:normal;font-weight:normal;font-size:16px' fill="#1a1a1a" textLength="4.04" lengthAdjust="spacingAndGlyphs">/</text>
<text x="493.36" y="47.90" style='font-family:"Liberation Serif",serif;font-style:italic;font-weight:normal;font-size:16px' fill="#1a1a1a" textLength="7.08" lengthAdjust="spacingAndGlyphs">L</text>
<text x="500.66" y="47.90" style='font-family:"Liberation Serif",serif;font-style:normal;font-weight:normal;font-size:16px' fill="#1a1a1a" textLength="5.72" lengthAdjust="spacingAndGlyphs">)</text>
<text x="271.60" y="46.60" style='font-family:"Liberation Serif",serif;font-style:italic;font-weight:normal;font-size:16.5px' fill="#1a1a1a" textLength="9.73" lengthAdjust="spacingAndGlyphs">σ</text>
<text x="287.03" y="47.00" style='font-family:"Liberation Serif",serif;font-style:normal;font-weight:normal;font-size:16.5px' fill="#1a1a1a" textLength="12.45" lengthAdjust="spacingAndGlyphs">=</text>
<text x="304.78" y="46.60" style='font-family:"Liberation Serif",serif;font-style:normal;font-weight:normal;font-size:16.5px' fill="#1a1a1a" textLength="21.37" lengthAdjust="spacingAndGlyphs">0.3</text>
<text x="624.13" y="49.60" style='font-family:"Liberation Serif",serif;font-style:italic;font-weight:normal;font-size:16.5px' fill="#1a1a1a" textLength="9.23" lengthAdjust="spacingAndGlyphs">σ</text>
<text x="639.54" y="50.00" style='font-family:"Liberation Serif",serif;font-style:normal;font-weight:normal;font-size:16.5px' fill="#1a1a1a" textLength="12.33" lengthAdjust="spacingAndGlyphs">=</text>
<text x="656.72" y="49.60" style='font-family:"Liberation Serif",serif;font-style:normal;font-weight:normal;font-size:16.5px' fill="#1a1a1a" textLength="18.66" lengthAdjust="spacingAndGlyphs">10</text>
<text x="119.19" y="107.60" style='font-family:"Liberation Sans",sans-serif;font-style:normal;font-weight:normal;font-size:14.2px' fill="#1a1a1a" textLength="59.71" lengthAdjust="spacingAndGlyphs">Parabolic</text>
<text x="119.70" y="124.40" style='font-family:"Liberation Sans",sans-serif;font-style:normal;font-weight:normal;font-size:14.2px' fill="#1a1a1a">SBM</text>
<text x="469.99" y="107.60" style='font-family:"Liberation Sans",sans-serif;font-style:normal;font-weight:normal;font-size:14.2px' fill="#1a1a1a" textLength="59.71" lengthAdjust="spacingAndGlyphs">Parabolic</text>
<text x="470.50" y="124.40" style='font-family:"Liberation Sans",sans-serif;font-style:normal;font-weight:normal;font-size:14.2px' fill="#1a1a1a">SBM</text>
<text transform="translate(31.20,138.73) rotate(-90)" x="0" y="0" style='font-family:"Liberation Serif",serif;font-style:italic;font-weight:normal;font-size:17.5px' fill="#1a1a1a" textLength="8.79" lengthAdjust="spacingAndGlyphs">ν</text>
<text transform="translate(34.60,130.33) rotate(-90)" x="0" y="0" style='font-family:"Liberation Serif",serif;font-style:normal;font-weight:normal;font-size:12px' fill="#1a1a1a" textLength="5.67" lengthAdjust="spacingAndGlyphs">c</text>
<text transform="translate(31.80,124.12) rotate(-90)" x="0" y="0" style='font-family:"Liberation Serif",serif;font-style:normal;font-weight:normal;font-size:17.5px' fill="#1a1a1a" textLength="8.16" lengthAdjust="spacingAndGlyphs">(</text>
<text transform="translate(31.20,114.40) rotate(-90)" x="0" y="0" style='font-family:"Liberation Serif",serif;font-style:italic;font-weight:normal;font-size:17.5px' fill="#1a1a1a" textLength="6.81" lengthAdjust="spacingAndGlyphs">z</text>
<text transform="translate(31.20,107.18) rotate(-90)" x="0" y="0" style='font-family:"Liberation Serif",serif;font-style:normal;font-weight:normal;font-size:17.5px' fill="#1a1a1a" textLength="3.03" lengthAdjust="spacingAndGlyphs">,</text>
<text transform="translate(31.20,100.35) rotate(-90)" x="0" y="0" style='font-family:"Liberation Serif",serif;font-style:normal;font-weight:normal;font-size:17.5px' fill="#1a1a1a" textLength="6.86" lengthAdjust="spacingAndGlyphs">0</text>
<text transform="translate(31.80,93.24) rotate(-90)" x="0" y="0" style='font-family:"Liberation Serif",serif;font-style:normal;font-weight:normal;font-size:17.5px' fill="#1a1a1a" textLength="8.16" lengthAdjust="spacingAndGlyphs">)</text>
<text transform="translate(377.40,138.33) rotate(-90)" x="0" y="0" style='font-family:"Liberation Serif",serif;font-style:italic;font-weight:normal;font-size:17.5px' fill="#1a1a1a" textLength="8.79" lengthAdjust="spacingAndGlyphs">ν</text>
<text transform="translate(380.80,129.93) rotate(-90)" x="0" y="0" style='font-family:"Liberation Serif",serif;font-style:normal;font-weight:normal;font-size:12px' fill="#1a1a1a" textLength="5.67" lengthAdjust="spacingAndGlyphs">c</text>
<text transform="translate(378.00,123.72) rotate(-90)" x="0" y="0" style='font-family:"Liberation Serif",serif;font-style:normal;font-weight:normal;font-size:17.5px' fill="#1a1a1a" textLength="8.16" lengthAdjust="spacingAndGlyphs">(</text>
<text transform="translate(377.40,114.00) rotate(-90)" x="0" y="0" style='font-family:"Liberation Serif",serif;font-style:italic;font-weight:normal;font-size:17.5px' fill="#1a1a1a" textLength="6.81" lengthAdjust="spacingAndGlyphs">z</text>
<text transform="translate(377.40,106.78) rotate(-90)" x="0" y="0" style='font-family:"Liberation Serif",serif;font-style:normal;font-weight:normal;font-size:17.5px' fill="#1a1a1a" textLength="3.03" lengthAdjust="spacingAndGlyphs">,</text>
<text transform="translate(377.40,99.95) rotate(-90)" x="0" y="0" style='font-family:"Liberation Serif",serif;font-style:normal;font-weight:normal;font-size:17.5px' fill="#1a1a1a" textLength="6.86" lengthAdjust="spacingAndGlyphs">0</text>
<text transform="translate(378.00,92.84) rotate(-90)" x="0" y="0" style='font-family:"Liberation Serif",serif;font-style:normal;font-weight:normal;font-size:17.5px' fill="#1a1a1a" textLength="8.16" lengthAdjust="spacingAndGlyphs">)</text>
<text x="58.87" y="180.80" style='font-family:"Liberation Serif",serif;font-style:normal;font-weight:normal;font-size:17.5px' fill="#1a1a1a" textLength="12.43" lengthAdjust="spacingAndGlyphs">−</text>
<text x="72.57" y="180.80" style='font-family:"Liberation Serif",serif;font-style:italic;font-weight:normal;font-size:17.5px' fill="#1a1a1a" textLength="8.24" lengthAdjust="spacingAndGlyphs">L</text>
<text x="295.12" y="179.90" style='font-family:"Liberation Serif",serif;font-style:normal;font-weight:normal;font-size:17.5px' fill="#1a1a1a" textLength="12.91" lengthAdjust="spacingAndGlyphs">+</text>
<text x="309.07" y="179.90" style='font-family:"Liberation Serif",serif;font-style:italic;font-weight:normal;font-size:17.5px' fill="#1a1a1a" textLength="8.24" lengthAdjust="spacingAndGlyphs">L</text>
<text x="147.02" y="183.50" style='font-family:"Liberation Sans",sans-serif;font-style:normal;font-weight:normal;font-size:17.3px' fill="#1a1a1a" textLength="66.48" lengthAdjust="spacingAndGlyphs">Distance</text>
<text x="219.50" y="183.50" style='font-family:"Liberation Serif",serif;font-style:italic;font-weight:normal;font-size:17.5px' fill="#1a1a1a" textLength="6.91" lengthAdjust="spacingAndGlyphs">z</text>
<text x="407.17" y="180.90" style='font-family:"Liberation Serif",serif;font-style:normal;font-weight:normal;font-size:17.5px' fill="#1a1a1a" textLength="12.43" lengthAdjust="spacingAndGlyphs">−</text>
<text x="420.47" y="180.90" style='font-family:"Liberation Serif",serif;font-style:italic;font-weight:normal;font-size:17.5px' fill="#1a1a1a" textLength="8.24" lengthAdjust="spacingAndGlyphs">L</text>
<text x="645.02" y="179.50" style='font-family:"Liberation Serif",serif;font-style:normal;font-weight:normal;font-size:17.5px' fill="#1a1a1a" textLength="12.91" lengthAdjust="spacingAndGlyphs">+</text>
<text x="658.77" y="179.50" style='font-family:"Liberation Serif",serif;font-style:italic;font-weight:normal;font-size:17.5px' fill="#1a1a1a" textLength="8.24" lengthAdjust="spacingAndGlyphs">L</text>
<text x="496.42" y="183.10" style='font-family:"Liberation Sans",sans-serif;font-style:normal;font-weight:normal;font-size:17.3px' fill="#1a1a1a" textLength="66.48" lengthAdjust="spacingAndGlyphs">Distance</text>
<text x="568.70" y="183.10" style='font-family:"Liberation Serif",serif;font-style:italic;font-weight:normal;font-size:17.5px' fill="#1a1a1a" textLength="6.91" lengthAdjust="spacingAndGlyphs">z</text>
<text x="39.55" y="374.40" style='font-family:"Liberation Sans",sans-serif;font-style:normal;font-weight:normal;font-size:17.3px' fill="#1a1a1a">-20</text>
<text x="72.60" y="374.40" style='font-family:"Liberation Sans",sans-serif;font-style:normal;font-weight:normal;font-size:17.3px' fill="#1a1a1a">-15</text>
<text x="105.55" y="374.40" style='font-family:"Liberation Sans",sans-serif;font-style:normal;font-weight:normal;font-size:17.3px' fill="#1a1a1a">-10</text>
<text x="143.40" y="374.40" style='font-family:"Liberation Sans",sans-serif;font-style:normal;font-weight:normal;font-size:17.3px' fill="#1a1a1a">-5</text>
<text x="180.50" y="374.40" style='font-family:"Liberation Sans",sans-serif;font-style:normal;font-weight:normal;font-size:17.3px' fill="#1a1a1a">0</text>
<text x="213.55" y="374.40" style='font-family:"Liberation Sans",sans-serif;font-style:normal;font-weight:normal;font-size:17.3px' fill="#1a1a1a">5</text>
<text x="241.40" y="374.40" style='font-family:"Liberation Sans",sans-serif;font-style:normal;font-weight:normal;font-size:17.3px' fill="#1a1a1a">10</text>
<text x="274.45" y="374.40" style='font-family:"Liberation Sans",sans-serif;font-style:normal;font-weight:normal;font-size:17.3px' fill="#1a1a1a">15</text>
<text x="307.60" y="374.40" style='font-family:"Liberation Sans",sans-serif;font-style:normal;font-weight:normal;font-size:17.3px' fill="#1a1a1a">20</text>
<text x="388.60" y="373.60" style='font-family:"Liberation Sans",sans-serif;font-style:normal;font-weight:normal;font-size:17.3px' fill="#1a1a1a">-20</text>
<text x="421.68" y="373.60" style='font-family:"Liberation Sans",sans-serif;font-style:normal;font-weight:normal;font-size:17.3px' fill="#1a1a1a">-15</text>
<text x="454.66" y="373.60" style='font-family:"Liberation Sans",sans-serif;font-style:normal;font-weight:normal;font-size:17.3px' fill="#1a1a1a">-10</text>
<text x="492.54" y="373.60" style='font-family:"Liberation Sans",sans-serif;font-style:normal;font-weight:normal;font-size:17.3px' fill="#1a1a1a">-5</text>
<text x="528.67" y="373.60" style='font-family:"Liberation Sans",sans-serif;font-style:normal;font-weight:normal;font-size:17.3px' fill="#1a1a1a">0</text>
<text x="561.75" y="373.60" style='font-family:"Liberation Sans",sans-serif;font-style:normal;font-weight:normal;font-size:17.3px' fill="#1a1a1a">5</text>
<text x="589.63" y="373.60" style='font-family:"Liberation Sans",sans-serif;font-style:normal;font-weight:normal;font-size:17.3px' fill="#1a1a1a">10</text>
<text x="622.71" y="373.60" style='font-family:"Liberation Sans",sans-serif;font-style:normal;font-weight:normal;font-size:17.3px' fill="#1a1a1a">15</text>
<text x="655.89" y="373.60" style='font-family:"Liberation Sans",sans-serif;font-style:normal;font-weight:normal;font-size:17.3px' fill="#1a1a1a">20</text>
<text x="76.51" y="394.00" style='font-family:"Liberation Sans",sans-serif;font-style:normal;font-weight:normal;font-size:17.3px' fill="#1a1a1a" textLength="151.40" lengthAdjust="spacingAndGlyphs">Frequency detuning</text>
<text x="233.66" y="394.00" style='font-family:"Liberation Sans",sans-serif;font-style:italic;font-weight:normal;font-size:17.3px' fill="#1a1a1a" textLength="10.20" lengthAdjust="spacingAndGlyphs">Δ</text>
<text x="242.87" y="394.00" style='font-family:"Liberation Serif",serif;font-style:italic;font-weight:normal;font-size:17.5px' fill="#1a1a1a" textLength="8.89" lengthAdjust="spacingAndGlyphs">ν</text>
<text x="256.50" y="394.00" style='font-family:"Liberation Sans",sans-serif;font-style:normal;font-weight:normal;font-size:17.3px' fill="#1a1a1a" textLength="46.12" lengthAdjust="spacingAndGlyphs">(GHz)</text>
<text x="426.11" y="393.10" style='font-family:"Liberation Sans",sans-serif;font-style:normal;font-weight:normal;font-size:17.3px' fill="#1a1a1a" textLength="151.40" lengthAdjust="spacingAndGlyphs">Frequency detuning</text>
<text x="583.26" y="393.10" style='font-family:"Liberation Sans",sans-serif;font-style:italic;font-weight:normal;font-size:17.3px' fill="#1a1a1a" textLength="10.20" lengthAdjust="spacingAndGlyphs">Δ</text>
<text x="592.47" y="393.10" style='font-family:"Liberation Serif",serif;font-style:italic;font-weight:normal;font-size:17.5px' fill="#1a1a1a" textLength="8.89" lengthAdjust="spacingAndGlyphs">ν</text>
<text x="606.10" y="393.10" style='font-family:"Liberation Sans",sans-serif;font-style:normal;font-weight:normal;font-size:17.3px' fill="#1a1a1a" textLength="46.12" lengthAdjust="spacingAndGlyphs">(GHz)</text>
<text x="207.90" y="234.80" style='font-family:"Liberation Sans",sans-serif;font-style:normal;font-weight:normal;font-size:14.2px' fill="#1a1a1a" textLength="99.55" lengthAdjust="spacingAndGlyphs">SBM bandwidth</text>
<text x="217.57" y="251.70" style='font-family:"Liberation Serif",serif;font-style:normal;font-weight:normal;font-size:15.5px' fill="#1a1a1a" textLength="8.72" lengthAdjust="spacingAndGlyphs">Δ</text>
<text x="226.44" y="251.70" style='font-family:"Liberation Serif",serif;font-style:italic;font-weight:normal;font-size:15.5px' fill="#1a1a1a" textLength="8.83" lengthAdjust="spacingAndGlyphs">ν</text>
<text x="233.34" y="254.80" style='font-family:"Liberation Serif",serif;font-style:normal;font-weight:normal;font-size:11px' fill="#1a1a1a" textLength="6.32" lengthAdjust="spacingAndGlyphs">0</text>
<text x="242.89" y="252.20" style='font-family:"Liberation Serif",serif;font-style:normal;font-weight:normal;font-size:15.5px' fill="#1a1a1a" textLength="11.05" lengthAdjust="spacingAndGlyphs">=</text>
<text x="258.41" y="251.80" style='font-family:"Liberation Sans",sans-serif;font-style:normal;font-weight:normal;font-size:14.2px' fill="#1a1a1a" textLength="39.83" lengthAdjust="spacingAndGlyphs">5 GHz</text>
<text x="558.70" y="233.90" style='font-family:"Liberation Sans",sans-serif;font-style:normal;font-weight:normal;font-size:14.2px' fill="#1a1a1a" textLength="99.55" lengthAdjust="spacingAndGlyphs">SBM bandwidth</text>
<text x="568.38" y="250.80" style='font-family:"Liberation Serif",serif;font-style:normal;font-weight:normal;font-size:15.5px' fill="#1a1a1a" textLength="8.72" lengthAdjust="spacingAndGlyphs">Δ</text>
<text x="577.24" y="250.80" style='font-family:"Liberation Serif",serif;font-style:italic;font-weight:normal;font-size:15.5px' fill="#1a1a1a" textLength="8.83" lengthAdjust="spacingAndGlyphs">ν</text>
<text x="584.14" y="253.90" style='font-family:"Liberation Serif",serif;font-style:normal;font-weight:normal;font-size:11px' fill="#1a1a1a" textLength="6.32" lengthAdjust="spacingAndGlyphs">0</text>
<text x="593.69" y="251.30" style='font-family:"Liberation Serif",serif;font-style:normal;font-weight:normal;font-size:15.5px' fill="#1a1a1a" textLength="11.05" lengthAdjust="spacingAndGlyphs">=</text>
<text x="609.21" y="250.90" style='font-family:"Liberation Sans",sans-serif;font-style:normal;font-weight:normal;font-size:14.2px' fill="#1a1a1a" textLength="39.83" lengthAdjust="spacingAndGlyphs">5 GHz</text>
<text transform="translate(12.90,334.80) rotate(-90)" x="0" y="0" style='font-family:"Liberation Sans",sans-serif;font-style:normal;font-weight:normal;font-size:17.3px' fill="#1a1a1a" textLength="103.86" lengthAdjust="spacingAndGlyphs">Output power</text>
<text transform="translate(33.30,342.99) rotate(-90)" x="0" y="0" style='font-family:"Liberation Serif",serif;font-style:italic;font-weight:normal;font-size:17.3px' fill="#1a1a1a" textLength="11.50" lengthAdjust="spacingAndGlyphs">P</text>
<text transform="translate(33.60,331.65) rotate(-90)" x="0" y="0" style='font-family:"Liberation Serif",serif;font-style:normal;font-weight:normal;font-size:17.3px' fill="#1a1a1a" textLength="7.59" lengthAdjust="spacingAndGlyphs">(</text>
<text transform="translate(33.30,324.27) rotate(-90)" x="0" y="0" style='font-family:"Liberation Serif",serif;font-style:italic;font-weight:normal;font-size:17.3px' fill="#1a1a1a" textLength="6.65" lengthAdjust="spacingAndGlyphs">ν</text>
<text transform="translate(33.60,317.56) rotate(-90)" x="0" y="0" style='font-family:"Liberation Serif",serif;font-style:normal;font-weight:normal;font-size:17.3px' fill="#1a1a1a" textLength="7.55" lengthAdjust="spacingAndGlyphs">)</text>
<text transform="translate(33.30,304.89) rotate(-90)" x="0" y="0" style='font-family:"Liberation Sans",sans-serif;font-style:normal;font-weight:normal;font-size:17.3px' fill="#1a1a1a" textLength="82.94" lengthAdjust="spacingAndGlyphs">(20 dB/div)</text>
<text transform="translate(361.40,332.80) rotate(-90)" x="0" y="0" style='font-family:"Liberation Sans",sans-serif;font-style:normal;font-weight:normal;font-size:17.3px' fill="#1a1a1a" textLength="103.25" lengthAdjust="spacingAndGlyphs">Output power</text>
<text transform="translate(382.60,340.99) rotate(-90)" x="0" y="0" style='font-family:"Liberation Serif",serif;font-style:italic;font-weight:normal;font-size:17.3px' fill="#1a1a1a" textLength="11.50" lengthAdjust="spacingAndGlyphs">P</text>
<text transform="translate(382.90,329.65) rotate(-90)" x="0" y="0" style='font-family:"Liberation Serif",serif;font-style:normal;font-weight:normal;font-size:17.3px' fill="#1a1a1a" textLength="7.59" lengthAdjust="spacingAndGlyphs">(</text>
<text transform="translate(382.60,322.27) rotate(-90)" x="0" y="0" style='font-family:"Liberation Serif",serif;font-style:italic;font-weight:normal;font-size:17.3px' fill="#1a1a1a" textLength="6.65" lengthAdjust="spacingAndGlyphs">ν</text>
<text transform="translate(382.90,315.56) rotate(-90)" x="0" y="0" style='font-family:"Liberation Serif",serif;font-style:normal;font-weight:normal;font-size:17.3px' fill="#1a1a1a" textLength="7.55" lengthAdjust="spacingAndGlyphs">)</text>
<text transform="translate(382.60,302.88) rotate(-90)" x="0" y="0" style='font-family:"Liberation Sans",sans-serif;font-style:normal;font-weight:normal;font-size:17.3px' fill="#1a1a1a" textLength="82.22" lengthAdjust="spacingAndGlyphs">(20 dB/div)</text>
</g>
</svg>
</body></html>
